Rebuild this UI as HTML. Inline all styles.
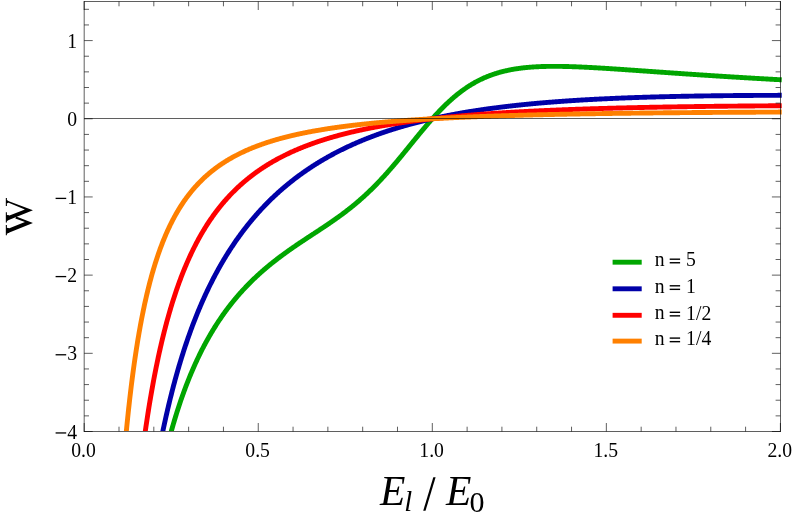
<!DOCTYPE html>
<html><head><meta charset="utf-8"><title>plot</title>
<style>html,body{margin:0;padding:0;background:#fff;}svg{display:block;will-change:transform;}text{font-family:"Liberation Serif",serif;fill:#000;}</style></head><body>
<svg width="797" height="518" viewBox="0 0 797 518">
<rect width="797" height="518" fill="#fff"/>
<defs><clipPath id="c"><rect x="82.70" y="0.00" width="699.20" height="431.00"/></clipPath></defs>
<g clip-path="url(#c)" fill="none" stroke-width="4.90" stroke-linejoin="round">
<path d="M160.23,476.75 L160.72,474.44 L161.21,472.16 L161.70,469.91 L162.20,467.69 L162.69,465.50 L163.18,463.33 L163.68,461.19 L164.17,459.08 L164.66,457.00 L165.16,454.94 L165.65,452.90 L166.14,450.89 L166.64,448.90 L167.13,446.94 L167.62,445.00 L168.12,443.08 L168.61,441.18 L169.10,439.31 L169.60,437.46 L170.09,435.63 L170.58,433.82 L171.08,432.03 L171.57,430.26 L172.06,428.51 L172.56,426.78 L173.05,425.07 L173.54,423.38 L174.04,421.71 L174.53,420.05 L175.02,418.42 L175.52,416.80 L176.01,415.20 L176.50,413.61 L177.00,412.05 L177.49,410.49 L177.98,408.96 L178.48,407.44 L178.97,405.94 L179.46,404.45 L179.96,402.98 L180.45,401.52 L180.94,400.08 L181.44,398.65 L181.93,397.24 L182.42,395.84 L182.92,394.46 L183.41,393.09 L183.90,391.73 L184.40,390.39 L184.89,389.06 L185.38,387.74 L185.88,386.43 L186.37,385.14 L186.86,383.86 L187.36,382.59 L187.85,381.34 L188.34,380.09 L188.84,378.86 L189.33,377.64 L189.82,376.43 L190.32,375.23 L190.81,374.05 L191.30,372.87 L191.80,371.70 L192.29,370.55 L192.78,369.41 L193.28,368.27 L193.77,367.15 L194.26,366.04 L194.76,364.93 L195.25,363.84 L195.74,362.75 L196.24,361.68 L196.73,360.61 L197.22,359.56 L197.72,358.51 L198.21,357.47 L198.70,356.45 L199.20,355.43 L199.69,354.41 L200.18,353.41 L200.68,352.42 L201.17,351.43 L201.66,350.45 L202.16,349.49 L202.65,348.52 L203.14,347.57 L203.64,346.63 L204.13,345.69 L204.62,344.76 L205.12,343.84 L205.61,342.92 L206.10,342.01 L206.60,341.11 L207.09,340.22 L207.58,339.33 L208.08,338.45 L208.57,337.58 L209.06,336.72 L209.56,335.86 L210.05,335.01 L210.54,334.16 L211.04,333.32 L211.53,332.49 L212.02,331.67 L212.52,330.85 L213.01,330.04 L213.50,329.23 L214.00,328.43 L214.49,327.63 L214.98,326.84 L215.48,326.06 L215.97,325.28 L216.46,324.51 L216.96,323.75 L217.45,322.99 L217.94,322.23 L218.44,321.48 L218.93,320.74 L219.42,320.00 L219.92,319.27 L220.41,318.54 L220.90,317.82 L221.40,317.10 L221.89,316.39 L222.38,315.69 L222.88,314.98 L223.37,314.29 L223.86,313.59 L224.36,312.91 L224.85,312.23 L225.34,311.55 L225.83,310.87 L226.33,310.21 L226.82,309.54 L227.31,308.88 L227.81,308.23 L228.30,307.58 L228.79,306.93 L229.29,306.29 L229.78,305.65 L230.27,305.02 L230.77,304.39 L231.26,303.77 L231.75,303.14 L232.25,302.53 L232.74,301.92 L233.23,301.31 L233.73,300.70 L234.22,300.10 L234.71,299.50 L235.21,298.91 L235.70,298.32 L236.19,297.74 L236.69,297.15 L237.18,296.58 L237.67,296.00 L238.17,295.43 L238.66,294.86 L239.15,294.30 L239.65,293.74 L240.14,293.18 L240.63,292.63 L241.13,292.08 L241.62,291.53 L242.11,290.99 L242.61,290.45 L243.10,289.91 L243.59,289.38 L244.09,288.84 L244.58,288.32 L245.07,287.79 L245.57,287.27 L246.06,286.75 L246.55,286.24 L247.05,285.73 L247.54,285.22 L248.03,284.71 L248.53,284.21 L249.02,283.71 L249.51,283.21 L250.01,282.71 L250.50,282.22 L250.99,281.73 L251.49,281.24 L251.98,280.76 L252.47,280.28 L252.97,279.80 L253.46,279.32 L253.95,278.85 L254.45,278.38 L254.94,277.91 L255.43,277.44 L255.93,276.98 L256.42,276.52 L256.91,276.06 L257.41,275.61 L257.90,275.15 L258.39,274.70 L258.89,274.25 L259.38,273.80 L259.87,273.36 L260.37,272.92 L260.86,272.48 L261.35,272.04 L261.85,271.60 L262.34,271.17 L262.83,270.74 L263.33,270.31 L263.82,269.88 L264.31,269.46 L264.81,269.03 L265.30,268.61 L265.79,268.19 L266.29,267.78 L266.78,267.36 L267.27,266.95 L267.77,266.54 L268.26,266.13 L268.75,265.72 L269.25,265.32 L269.74,264.91 L270.23,264.51 L270.73,264.11 L271.22,263.71 L271.71,263.31 L272.21,262.92 L272.70,262.53 L273.19,262.13 L273.69,261.74 L274.18,261.36 L274.67,260.97 L275.17,260.58 L275.66,260.20 L276.15,259.82 L276.65,259.44 L277.14,259.06 L277.63,258.68 L278.13,258.30 L278.62,257.93 L279.11,257.56 L279.61,257.18 L280.10,256.81 L280.59,256.45 L281.09,256.08 L281.58,255.71 L282.07,255.35 L282.57,254.98 L283.06,254.62 L283.55,254.26 L284.05,253.90 L284.54,253.54 L285.03,253.18 L285.53,252.83 L286.02,252.47 L286.51,252.12 L287.01,251.76 L287.50,251.41 L287.99,251.06 L288.48,250.71 L288.98,250.36 L289.47,250.01 L289.96,249.67 L290.46,249.32 L290.95,248.97 L291.44,248.63 L291.94,248.29 L292.43,247.94 L292.92,247.60 L293.42,247.26 L293.91,246.92 L294.40,246.58 L294.90,246.25 L295.39,245.91 L295.88,245.57 L296.38,245.23 L296.87,244.90 L297.36,244.57 L297.86,244.23 L298.35,243.90 L298.84,243.57 L299.34,243.23 L299.83,242.90 L300.32,242.57 L300.82,242.24 L301.31,241.91 L301.80,241.58 L302.30,241.25 L302.79,240.92 L303.28,240.60 L303.78,240.27 L304.27,239.94 L304.76,239.61 L305.26,239.29 L305.75,238.96 L306.24,238.64 L306.74,238.31 L307.23,237.98 L307.72,237.66 L308.22,237.33 L308.71,237.01 L309.20,236.69 L309.70,236.36 L310.19,236.04 L310.68,235.71 L311.18,235.39 L311.67,235.07 L312.16,234.74 L312.66,234.42 L313.15,234.09 L313.64,233.77 L314.14,233.45 L314.63,233.12 L315.12,232.80 L315.62,232.47 L316.11,232.15 L316.60,231.83 L317.10,231.50 L317.59,231.18 L318.08,230.85 L318.58,230.53 L319.07,230.20 L319.56,229.88 L320.06,229.55 L320.55,229.22 L321.04,228.90 L321.54,228.57 L322.03,228.24 L322.52,227.91 L323.02,227.59 L323.51,227.26 L324.00,226.93 L324.50,226.60 L324.99,226.27 L325.48,225.94 L325.98,225.60 L326.47,225.27 L326.96,224.94 L327.46,224.60 L327.95,224.27 L328.44,223.94 L328.94,223.60 L329.43,223.26 L329.92,222.93 L330.42,222.59 L330.91,222.25 L331.40,221.91 L331.90,221.57 L332.39,221.23 L332.88,220.88 L333.38,220.54 L333.87,220.20 L334.36,219.85 L334.86,219.50 L335.35,219.16 L335.84,218.81 L336.34,218.46 L336.83,218.11 L337.32,217.76 L337.82,217.40 L338.31,217.05 L338.80,216.69 L339.30,216.34 L339.79,215.98 L340.28,215.62 L340.78,215.26 L341.27,214.89 L341.76,214.53 L342.26,214.17 L342.75,213.80 L343.24,213.43 L343.74,213.06 L344.23,212.69 L344.72,212.32 L345.22,211.95 L345.71,211.57 L346.20,211.19 L346.70,210.81 L347.19,210.43 L347.68,210.05 L348.18,209.67 L348.67,209.28 L349.16,208.90 L349.66,208.51 L350.15,208.12 L350.64,207.73 L351.14,207.33 L351.63,206.94 L352.12,206.54 L352.61,206.14 L353.11,205.74 L353.60,205.33 L354.09,204.93 L354.59,204.52 L355.08,204.11 L355.57,203.70 L356.07,203.29 L356.56,202.87 L357.05,202.46 L357.55,202.04 L358.04,201.61 L358.53,201.19 L359.03,200.77 L359.52,200.34 L360.01,199.91 L360.51,199.48 L361.00,199.04 L361.49,198.61 L361.99,198.17 L362.48,197.73 L362.97,197.28 L363.47,196.84 L363.96,196.39 L364.45,195.94 L364.95,195.49 L365.44,195.04 L365.93,194.58 L366.43,194.12 L366.92,193.66 L367.41,193.20 L367.91,192.73 L368.40,192.26 L368.89,191.79 L369.39,191.32 L369.88,190.84 L370.37,190.37 L370.87,189.89 L371.36,189.40 L371.85,188.92 L372.35,188.43 L372.84,187.94 L373.33,187.45 L373.83,186.96 L374.32,186.46 L374.81,185.96 L375.31,185.46 L375.80,184.96 L376.29,184.45 L376.79,183.95 L377.28,183.44 L377.77,182.92 L378.27,182.41 L378.76,181.89 L379.25,181.37 L379.75,180.85 L380.24,180.33 L380.73,179.80 L381.23,179.27 L381.72,178.74 L382.21,178.21 L382.71,177.67 L383.20,177.14 L383.69,176.60 L384.19,176.06 L384.68,175.51 L385.17,174.97 L385.67,174.42 L386.16,173.87 L386.65,173.32 L387.15,172.76 L387.64,172.20 L388.13,171.65 L388.63,171.09 L389.12,170.52 L389.61,169.96 L390.11,169.39 L390.60,168.83 L391.09,168.26 L391.59,167.69 L392.08,167.11 L392.57,166.54 L393.07,165.96 L393.56,165.38 L394.05,164.80 L394.55,164.22 L395.04,163.64 L395.53,163.06 L396.03,162.47 L396.52,161.88 L397.01,161.30 L397.51,160.71 L398.00,160.11 L398.49,159.52 L398.99,158.93 L399.48,158.33 L399.97,157.74 L400.47,157.14 L400.96,156.54 L401.45,155.94 L401.95,155.34 L402.44,154.74 L402.93,154.14 L403.43,153.54 L403.92,152.94 L404.41,152.33 L404.91,151.73 L405.40,151.12 L405.89,150.52 L406.39,149.91 L406.88,149.30 L407.37,148.70 L407.87,148.09 L408.36,147.48 L408.85,146.87 L409.35,146.26 L409.84,145.66 L410.33,145.05 L410.83,144.44 L411.32,143.83 L411.81,143.22 L412.31,142.62 L412.80,142.01 L413.29,141.40 L413.79,140.79 L414.28,140.19 L414.77,139.58 L415.26,138.97 L415.76,138.37 L416.25,137.76 L416.74,137.16 L417.24,136.56 L417.73,135.95 L418.22,135.35 L418.72,134.75 L419.21,134.15 L419.70,133.55 L420.20,132.96 L420.69,132.36 L421.18,131.76 L421.68,131.17 L422.17,130.58 L422.66,129.98 L423.16,129.39 L423.65,128.81 L424.14,128.22 L424.64,127.63 L425.13,127.05 L425.62,126.47 L426.12,125.89 L426.61,125.31 L427.10,124.73 L427.60,124.15 L428.09,123.58 L428.58,123.01 L429.08,122.44 L429.57,121.87 L430.06,121.31 L430.56,120.74 L431.05,120.18 L431.54,119.62 L432.04,119.07 L432.53,118.51 L433.02,117.96 L433.52,117.41 L434.01,116.87 L434.50,116.32 L435.00,115.78 L435.49,115.24 L435.98,114.70 L436.48,114.17 L436.97,113.64 L437.46,113.11 L437.96,112.59 L438.45,112.06 L438.94,111.54 L439.44,111.03 L439.93,110.51 L440.42,110.00 L440.92,109.49 L441.41,108.99 L441.90,108.48 L442.40,107.98 L442.89,107.49 L443.38,106.99 L443.88,106.50 L444.37,106.02 L444.86,105.53 L445.36,105.05 L445.85,104.58 L446.34,104.10 L446.84,103.63 L447.33,103.16 L447.82,102.70 L448.32,102.24 L448.81,101.78 L449.30,101.33 L449.80,100.88 L450.29,100.43 L450.78,99.99 L451.28,99.55 L451.77,99.11 L452.26,98.67 L452.76,98.24 L453.25,97.82 L453.74,97.39 L454.24,96.97 L454.73,96.56 L455.22,96.14 L455.72,95.74 L456.21,95.33 L456.70,94.93 L457.20,94.53 L457.69,94.13 L458.18,93.74 L458.68,93.35 L459.17,92.97 L459.66,92.59 L460.16,92.21 L460.65,91.83 L461.14,91.46 L461.64,91.10 L462.13,90.73 L462.62,90.37 L463.12,90.01 L463.61,89.66 L464.10,89.31 L464.60,88.97 L465.09,88.62 L465.58,88.28 L466.08,87.95 L466.57,87.61 L467.06,87.28 L467.56,86.96 L468.05,86.64 L468.54,86.32 L469.04,86.00 L469.53,85.69 L470.02,85.38 L470.52,85.08 L471.01,84.77 L471.50,84.47 L472.00,84.18 L472.49,83.89 L472.98,83.60 L473.48,83.31 L473.97,83.03 L474.46,82.75 L474.96,82.47 L475.45,82.20 L475.94,81.93 L476.44,81.67 L476.93,81.40 L477.42,81.14 L477.92,80.88 L478.41,80.63 L478.90,80.38 L479.39,80.13 L479.89,79.89 L480.38,79.65 L480.87,79.41 L481.37,79.17 L481.86,78.94 L482.35,78.71 L482.85,78.48 L483.34,78.26 L483.83,78.04 L484.33,77.82 L484.82,77.60 L485.31,77.39 L485.81,77.18 L486.30,76.97 L486.79,76.77 L487.29,76.57 L487.78,76.37 L488.27,76.17 L488.77,75.98 L489.26,75.79 L489.75,75.60 L490.25,75.42 L490.74,75.23 L491.23,75.05 L491.73,74.88 L492.22,74.70 L492.71,74.53 L493.21,74.36 L493.70,74.19 L494.19,74.02 L494.69,73.86 L495.18,73.70 L495.67,73.54 L496.17,73.39 L496.66,73.23 L497.15,73.08 L497.65,72.93 L498.14,72.79 L498.63,72.64 L499.13,72.50 L499.62,72.36 L500.11,72.22 L500.61,72.09 L501.10,71.96 L501.59,71.83 L502.09,71.70 L502.58,71.57 L503.07,71.44 L503.57,71.32 L504.06,71.20 L504.55,71.08 L505.05,70.97 L505.54,70.85 L506.03,70.74 L506.53,70.63 L507.02,70.52 L507.51,70.41 L508.01,70.30 L508.50,70.20 L508.99,70.10 L509.49,70.00 L509.98,69.90 L510.47,69.81 L510.97,69.71 L511.46,69.62 L511.95,69.53 L512.45,69.44 L512.94,69.35 L513.43,69.26 L513.93,69.18 L514.42,69.10 L514.91,69.01 L515.41,68.94 L515.90,68.86 L516.39,68.78 L516.89,68.71 L517.38,68.63 L517.87,68.56 L518.37,68.49 L518.86,68.42 L519.35,68.35 L519.85,68.29 L520.34,68.22 L520.83,68.16 L521.33,68.10 L521.82,68.04 L522.31,67.98 L522.81,67.92 L523.30,67.86 L523.79,67.81 L524.29,67.75 L524.78,67.70 L525.27,67.65 L525.77,67.60 L526.26,67.55 L526.75,67.50 L527.25,67.45 L527.74,67.41 L528.23,67.36 L528.73,67.32 L529.22,67.28 L529.71,67.24 L530.21,67.20 L530.70,67.16 L531.19,67.12 L531.69,67.08 L532.18,67.05 L532.67,67.01 L533.17,66.98 L533.66,66.95 L534.15,66.92 L534.65,66.89 L535.14,66.86 L535.63,66.83 L536.13,66.80 L536.62,66.77 L537.11,66.75 L537.61,66.72 L538.10,66.70 L538.59,66.68 L539.09,66.65 L539.58,66.63 L540.07,66.61 L540.57,66.59 L541.06,66.57 L541.55,66.56 L542.04,66.54 L542.54,66.52 L543.03,66.51 L543.52,66.49 L544.02,66.48 L544.51,66.47 L545.00,66.45 L545.50,66.44 L545.99,66.43 L546.48,66.42 L546.98,66.41 L547.47,66.40 L547.96,66.39 L548.46,66.39 L548.95,66.38 L549.44,66.37 L549.94,66.37 L550.43,66.36 L550.92,66.36 L551.42,66.36 L551.91,66.35 L552.40,66.35 L552.90,66.35 L553.39,66.35 L553.88,66.35 L554.38,66.35 L554.87,66.35 L555.36,66.35 L555.86,66.35 L556.35,66.35 L556.84,66.36 L557.34,66.36 L557.83,66.36 L558.32,66.37 L558.82,66.37 L559.31,66.38 L559.80,66.39 L560.30,66.39 L560.79,66.40 L561.28,66.41 L561.78,66.42 L562.27,66.42 L562.76,66.43 L563.26,66.44 L563.75,66.45 L564.24,66.46 L564.74,66.47 L565.23,66.48 L565.72,66.50 L566.22,66.51 L566.71,66.52 L567.20,66.53 L567.70,66.55 L568.19,66.56 L568.68,66.57 L569.18,66.59 L569.67,66.60 L570.16,66.62 L570.66,66.63 L571.15,66.65 L571.64,66.66 L572.14,66.68 L572.63,66.70 L573.12,66.71 L573.62,66.73 L574.11,66.75 L574.60,66.77 L575.10,66.79 L575.59,66.81 L576.08,66.82 L576.58,66.84 L577.07,66.86 L577.56,66.88 L578.06,66.90 L578.55,66.92 L579.04,66.95 L579.54,66.97 L580.03,66.99 L580.52,67.01 L581.02,67.03 L581.51,67.05 L582.00,67.08 L582.50,67.10 L582.99,67.12 L583.48,67.14 L583.98,67.17 L584.47,67.19 L584.96,67.22 L585.46,67.24 L585.95,67.26 L586.44,67.29 L586.94,67.31 L587.43,67.34 L587.92,67.36 L588.42,67.39 L588.91,67.41 L589.40,67.44 L589.90,67.47 L590.39,67.49 L590.88,67.52 L591.38,67.55 L591.87,67.57 L592.36,67.60 L592.86,67.63 L593.35,67.65 L593.84,67.68 L594.34,67.71 L594.83,67.74 L595.32,67.77 L595.82,67.79 L596.31,67.82 L596.80,67.85 L597.30,67.88 L597.79,67.91 L598.28,67.94 L598.78,67.97 L599.27,67.99 L599.76,68.02 L600.26,68.05 L600.75,68.08 L601.24,68.11 L601.74,68.14 L602.23,68.17 L602.72,68.20 L603.22,68.23 L603.71,68.26 L604.20,68.29 L604.70,68.32 L605.19,68.36 L605.68,68.39 L606.17,68.42 L606.67,68.45 L607.16,68.48 L607.65,68.51 L608.15,68.54 L608.64,68.57 L609.13,68.61 L609.63,68.64 L610.12,68.67 L610.61,68.70 L611.11,68.73 L611.60,68.76 L612.09,68.80 L612.59,68.83 L613.08,68.86 L613.57,68.89 L614.07,68.93 L614.56,68.96 L615.05,68.99 L615.55,69.02 L616.04,69.06 L616.53,69.09 L617.03,69.12 L617.52,69.16 L618.01,69.19 L618.51,69.22 L619.00,69.25 L619.49,69.29 L619.99,69.32 L620.48,69.35 L620.97,69.39 L621.47,69.42 L621.96,69.46 L622.45,69.49 L622.95,69.52 L623.44,69.56 L623.93,69.59 L624.43,69.62 L624.92,69.66 L625.41,69.69 L625.91,69.73 L626.40,69.76 L626.89,69.79 L627.39,69.83 L627.88,69.86 L628.37,69.90 L628.87,69.93 L629.36,69.96 L629.85,70.00 L630.35,70.03 L630.84,70.07 L631.33,70.10 L631.83,70.14 L632.32,70.17 L632.81,70.20 L633.31,70.24 L633.80,70.27 L634.29,70.31 L634.79,70.34 L635.28,70.38 L635.77,70.41 L636.27,70.45 L636.76,70.48 L637.25,70.52 L637.75,70.55 L638.24,70.58 L638.73,70.62 L639.23,70.65 L639.72,70.69 L640.21,70.72 L640.71,70.76 L641.20,70.79 L641.69,70.83 L642.19,70.86 L642.68,70.90 L643.17,70.93 L643.67,70.97 L644.16,71.00 L644.65,71.04 L645.15,71.07 L645.64,71.11 L646.13,71.14 L646.63,71.18 L647.12,71.21 L647.61,71.25 L648.11,71.28 L648.60,71.32 L649.09,71.35 L649.59,71.38 L650.08,71.42 L650.57,71.45 L651.07,71.49 L651.56,71.52 L652.05,71.56 L652.55,71.59 L653.04,71.63 L653.53,71.66 L654.03,71.70 L654.52,71.73 L655.01,71.77 L655.51,71.80 L656.00,71.84 L656.49,71.87 L656.99,71.91 L657.48,71.94 L657.97,71.98 L658.47,72.01 L658.96,72.05 L659.45,72.08 L659.95,72.12 L660.44,72.15 L660.93,72.19 L661.43,72.22 L661.92,72.26 L662.41,72.29 L662.91,72.32 L663.40,72.36 L663.89,72.39 L664.39,72.43 L664.88,72.46 L665.37,72.50 L665.87,72.53 L666.36,72.57 L666.85,72.60 L667.35,72.64 L667.84,72.67 L668.33,72.71 L668.82,72.74 L669.32,72.77 L669.81,72.81 L670.30,72.84 L670.80,72.88 L671.29,72.91 L671.78,72.95 L672.28,72.98 L672.77,73.02 L673.26,73.05 L673.76,73.08 L674.25,73.12 L674.74,73.15 L675.24,73.19 L675.73,73.22 L676.22,73.26 L676.72,73.29 L677.21,73.32 L677.70,73.36 L678.20,73.39 L678.69,73.43 L679.18,73.46 L679.68,73.49 L680.17,73.53 L680.66,73.56 L681.16,73.60 L681.65,73.63 L682.14,73.66 L682.64,73.70 L683.13,73.73 L683.62,73.77 L684.12,73.80 L684.61,73.83 L685.10,73.87 L685.60,73.90 L686.09,73.93 L686.58,73.97 L687.08,74.00 L687.57,74.03 L688.06,74.07 L688.56,74.10 L689.05,74.14 L689.54,74.17 L690.04,74.20 L690.53,74.24 L691.02,74.27 L691.52,74.30 L692.01,74.34 L692.50,74.37 L693.00,74.40 L693.49,74.44 L693.98,74.47 L694.48,74.50 L694.97,74.54 L695.46,74.57 L695.96,74.60 L696.45,74.63 L696.94,74.67 L697.44,74.70 L697.93,74.73 L698.42,74.77 L698.92,74.80 L699.41,74.83 L699.90,74.87 L700.40,74.90 L700.89,74.93 L701.38,74.96 L701.88,75.00 L702.37,75.03 L702.86,75.06 L703.36,75.09 L703.85,75.13 L704.34,75.16 L704.84,75.19 L705.33,75.22 L705.82,75.26 L706.32,75.29 L706.81,75.32 L707.30,75.35 L707.80,75.39 L708.29,75.42 L708.78,75.45 L709.28,75.48 L709.77,75.52 L710.26,75.55 L710.76,75.58 L711.25,75.61 L711.74,75.64 L712.24,75.68 L712.73,75.71 L713.22,75.74 L713.72,75.77 L714.21,75.80 L714.70,75.84 L715.20,75.87 L715.69,75.90 L716.18,75.93 L716.68,75.96 L717.17,75.99 L717.66,76.03 L718.16,76.06 L718.65,76.09 L719.14,76.12 L719.64,76.15 L720.13,76.18 L720.62,76.21 L721.12,76.25 L721.61,76.28 L722.10,76.31 L722.60,76.34 L723.09,76.37 L723.58,76.40 L724.08,76.43 L724.57,76.46 L725.06,76.50 L725.56,76.53 L726.05,76.56 L726.54,76.59 L727.04,76.62 L727.53,76.65 L728.02,76.68 L728.52,76.71 L729.01,76.74 L729.50,76.77 L730.00,76.80 L730.49,76.84 L730.98,76.87 L731.48,76.90 L731.97,76.93 L732.46,76.96 L732.95,76.99 L733.45,77.02 L733.94,77.05 L734.43,77.08 L734.93,77.11 L735.42,77.14 L735.91,77.17 L736.41,77.20 L736.90,77.23 L737.39,77.26 L737.89,77.29 L738.38,77.32 L738.87,77.35 L739.37,77.38 L739.86,77.41 L740.35,77.44 L740.85,77.47 L741.34,77.50 L741.83,77.53 L742.33,77.56 L742.82,77.59 L743.31,77.62 L743.81,77.65 L744.30,77.68 L744.79,77.71 L745.29,77.74 L745.78,77.77 L746.27,77.80 L746.77,77.83 L747.26,77.86 L747.75,77.89 L748.25,77.92 L748.74,77.95 L749.23,77.98 L749.73,78.01 L750.22,78.03 L750.71,78.06 L751.21,78.09 L751.70,78.12 L752.19,78.15 L752.69,78.18 L753.18,78.21 L753.67,78.24 L754.17,78.27 L754.66,78.30 L755.15,78.33 L755.65,78.35 L756.14,78.38 L756.63,78.41 L757.13,78.44 L757.62,78.47 L758.11,78.50 L758.61,78.53 L759.10,78.56 L759.59,78.58 L760.09,78.61 L760.58,78.64 L761.07,78.67 L761.57,78.70 L762.06,78.73 L762.55,78.75 L763.05,78.78 L763.54,78.81 L764.03,78.84 L764.53,78.87 L765.02,78.90 L765.51,78.92 L766.01,78.95 L766.50,78.98 L766.99,79.01 L767.49,79.04 L767.98,79.06 L768.47,79.09 L768.97,79.12 L769.46,79.15 L769.95,79.18 L770.45,79.20 L770.94,79.23 L771.43,79.26 L771.93,79.29 L772.42,79.32 L772.91,79.34 L773.41,79.37 L773.90,79.40 L774.39,79.43 L774.89,79.45 L775.38,79.48 L775.87,79.51 L776.37,79.54 L776.86,79.56 L777.35,79.59 L777.85,79.62 L778.34,79.64 L778.83,79.67 L779.33,79.70 L779.82,79.73 L780.31,79.75 L780.81,79.78 L781.30,79.81 L781.79,79.83" stroke="#00a600"/>
<path d="M154.31,476.71 L154.80,473.80 L155.29,470.93 L155.79,468.10 L156.28,465.30 L156.77,462.54 L157.27,459.81 L157.76,457.12 L158.25,454.46 L158.75,451.84 L159.24,449.24 L159.73,446.68 L160.23,444.15 L160.72,441.65 L161.21,439.18 L161.70,436.74 L162.20,434.33 L162.69,431.95 L163.18,429.59 L163.68,427.26 L164.17,424.96 L164.66,422.69 L165.16,420.44 L165.65,418.21 L166.14,416.01 L166.64,413.84 L167.13,411.69 L167.62,409.56 L168.12,407.45 L168.61,405.37 L169.10,403.31 L169.60,401.28 L170.09,399.26 L170.58,397.27 L171.08,395.29 L171.57,393.34 L172.06,391.41 L172.56,389.50 L173.05,387.60 L173.54,385.73 L174.04,383.87 L174.53,382.04 L175.02,380.22 L175.52,378.42 L176.01,376.64 L176.50,374.88 L177.00,373.13 L177.49,371.40 L177.98,369.69 L178.48,367.99 L178.97,366.31 L179.46,364.64 L179.96,362.99 L180.45,361.36 L180.94,359.74 L181.44,358.14 L181.93,356.55 L182.42,354.98 L182.92,353.42 L183.41,351.87 L183.90,350.34 L184.40,348.82 L184.89,347.32 L185.38,345.83 L185.88,344.35 L186.37,342.89 L186.86,341.44 L187.36,340.00 L187.85,338.57 L188.34,337.16 L188.84,335.76 L189.33,334.37 L189.82,332.99 L190.32,331.62 L190.81,330.27 L191.30,328.92 L191.80,327.59 L192.29,326.27 L192.78,324.96 L193.28,323.66 L193.77,322.37 L194.26,321.09 L194.76,319.83 L195.25,318.57 L195.74,317.32 L196.24,316.08 L196.73,314.86 L197.22,313.64 L197.72,312.43 L198.21,311.23 L198.70,310.04 L199.20,308.86 L199.69,307.69 L200.18,306.53 L200.68,305.37 L201.17,304.23 L201.66,303.09 L202.16,301.97 L202.65,300.85 L203.14,299.74 L203.64,298.64 L204.13,297.54 L204.62,296.46 L205.12,295.38 L205.61,294.31 L206.10,293.25 L206.60,292.20 L207.09,291.15 L207.58,290.11 L208.08,289.08 L208.57,288.06 L209.06,287.04 L209.56,286.03 L210.05,285.03 L210.54,284.03 L211.04,283.05 L211.53,282.07 L212.02,281.09 L212.52,280.12 L213.01,279.16 L213.50,278.21 L214.00,277.26 L214.49,276.32 L214.98,275.39 L215.48,274.46 L215.97,273.54 L216.46,272.62 L216.96,271.71 L217.45,270.81 L217.94,269.91 L218.44,269.02 L218.93,268.14 L219.42,267.26 L219.92,266.39 L220.41,265.52 L220.90,264.66 L221.40,263.80 L221.89,262.95 L222.38,262.10 L222.88,261.26 L223.37,260.43 L223.86,259.60 L224.36,258.78 L224.85,257.96 L225.34,257.15 L225.83,256.34 L226.33,255.53 L226.82,254.74 L227.31,253.94 L227.81,253.16 L228.30,252.37 L228.79,251.60 L229.29,250.82 L229.78,250.05 L230.27,249.29 L230.77,248.53 L231.26,247.78 L231.75,247.03 L232.25,246.28 L232.74,245.54 L233.23,244.81 L233.73,244.08 L234.22,243.35 L234.71,242.63 L235.21,241.91 L235.70,241.19 L236.19,240.48 L236.69,239.78 L237.18,239.08 L237.67,238.38 L238.17,237.69 L238.66,237.00 L239.15,236.31 L239.65,235.63 L240.14,234.96 L240.63,234.28 L241.13,233.61 L241.62,232.95 L242.11,232.29 L242.61,231.63 L243.10,230.98 L243.59,230.33 L244.09,229.68 L244.58,229.04 L245.07,228.40 L245.57,227.76 L246.06,227.13 L246.55,226.50 L247.05,225.88 L247.54,225.26 L248.03,224.64 L248.53,224.03 L249.02,223.41 L249.51,222.81 L250.01,222.20 L250.50,221.60 L250.99,221.01 L251.49,220.41 L251.98,219.82 L252.47,219.23 L252.97,218.65 L253.46,218.07 L253.95,217.49 L254.45,216.92 L254.94,216.35 L255.43,215.78 L255.93,215.21 L256.42,214.65 L256.91,214.09 L257.41,213.53 L257.90,212.98 L258.39,212.43 L258.89,211.88 L259.38,211.34 L259.87,210.80 L260.37,210.26 L260.86,209.72 L261.35,209.19 L261.85,208.66 L262.34,208.13 L262.83,207.61 L263.33,207.09 L263.82,206.57 L264.31,206.05 L264.81,205.54 L265.30,205.03 L265.79,204.52 L266.29,204.02 L266.78,203.51 L267.27,203.01 L267.77,202.51 L268.26,202.02 L268.75,201.53 L269.25,201.04 L269.74,200.55 L270.23,200.06 L270.73,199.58 L271.22,199.10 L271.71,198.62 L272.21,198.15 L272.70,197.68 L273.19,197.21 L273.69,196.74 L274.18,196.27 L274.67,195.81 L275.17,195.35 L275.66,194.89 L276.15,194.43 L276.65,193.98 L277.14,193.53 L277.63,193.08 L278.13,192.63 L278.62,192.19 L279.11,191.75 L279.61,191.30 L280.10,190.87 L280.59,190.43 L281.09,190.00 L281.58,189.56 L282.07,189.14 L282.57,188.71 L283.06,188.28 L283.55,187.86 L284.05,187.44 L284.54,187.02 L285.03,186.60 L285.53,186.19 L286.02,185.77 L286.51,185.36 L287.01,184.95 L287.50,184.55 L287.99,184.14 L288.48,183.74 L288.98,183.34 L289.47,182.94 L289.96,182.54 L290.46,182.15 L290.95,181.75 L291.44,181.36 L291.94,180.97 L292.43,180.58 L292.92,180.20 L293.42,179.81 L293.91,179.43 L294.40,179.05 L294.90,178.67 L295.39,178.30 L295.88,177.92 L296.38,177.55 L296.87,177.18 L297.36,176.81 L297.86,176.44 L298.35,176.07 L298.84,175.71 L299.34,175.35 L299.83,174.98 L300.32,174.63 L300.82,174.27 L301.31,173.91 L301.80,173.56 L302.30,173.21 L302.79,172.85 L303.28,172.51 L303.78,172.16 L304.27,171.81 L304.76,171.47 L305.26,171.12 L305.75,170.78 L306.24,170.44 L306.74,170.11 L307.23,169.77 L307.72,169.44 L308.22,169.10 L308.71,168.77 L309.20,168.44 L309.70,168.11 L310.19,167.78 L310.68,167.46 L311.18,167.14 L311.67,166.81 L312.16,166.49 L312.66,166.17 L313.15,165.85 L313.64,165.54 L314.14,165.22 L314.63,164.91 L315.12,164.60 L315.62,164.28 L316.11,163.98 L316.60,163.67 L317.10,163.36 L317.59,163.06 L318.08,162.75 L318.58,162.45 L319.07,162.15 L319.56,161.85 L320.06,161.55 L320.55,161.25 L321.04,160.96 L321.54,160.66 L322.03,160.37 L322.52,160.08 L323.02,159.79 L323.51,159.50 L324.00,159.21 L324.50,158.93 L324.99,158.64 L325.48,158.36 L325.98,158.07 L326.47,157.79 L326.96,157.51 L327.46,157.23 L327.95,156.96 L328.44,156.68 L328.94,156.41 L329.43,156.13 L329.92,155.86 L330.42,155.59 L330.91,155.32 L331.40,155.05 L331.90,154.78 L332.39,154.52 L332.88,154.25 L333.38,153.99 L333.87,153.72 L334.36,153.46 L334.86,153.20 L335.35,152.94 L335.84,152.68 L336.34,152.43 L336.83,152.17 L337.32,151.92 L337.82,151.66 L338.31,151.41 L338.80,151.16 L339.30,150.91 L339.79,150.66 L340.28,150.41 L340.78,150.16 L341.27,149.92 L341.76,149.67 L342.26,149.43 L342.75,149.19 L343.24,148.94 L343.74,148.70 L344.23,148.46 L344.72,148.23 L345.22,147.99 L345.71,147.75 L346.20,147.52 L346.70,147.28 L347.19,147.05 L347.68,146.82 L348.18,146.59 L348.67,146.36 L349.16,146.13 L349.66,145.90 L350.15,145.67 L350.64,145.45 L351.14,145.22 L351.63,145.00 L352.12,144.77 L352.61,144.55 L353.11,144.33 L353.60,144.11 L354.09,143.89 L354.59,143.67 L355.08,143.46 L355.57,143.24 L356.07,143.02 L356.56,142.81 L357.05,142.60 L357.55,142.38 L358.04,142.17 L358.53,141.96 L359.03,141.75 L359.52,141.54 L360.01,141.33 L360.51,141.13 L361.00,140.92 L361.49,140.71 L361.99,140.51 L362.48,140.31 L362.97,140.10 L363.47,139.90 L363.96,139.70 L364.45,139.50 L364.95,139.30 L365.44,139.10 L365.93,138.91 L366.43,138.71 L366.92,138.51 L367.41,138.32 L367.91,138.12 L368.40,137.93 L368.89,137.74 L369.39,137.55 L369.88,137.36 L370.37,137.17 L370.87,136.98 L371.36,136.79 L371.85,136.60 L372.35,136.42 L372.84,136.23 L373.33,136.04 L373.83,135.86 L374.32,135.68 L374.81,135.49 L375.31,135.31 L375.80,135.13 L376.29,134.95 L376.79,134.77 L377.28,134.59 L377.77,134.41 L378.27,134.24 L378.76,134.06 L379.25,133.89 L379.75,133.71 L380.24,133.54 L380.73,133.36 L381.23,133.19 L381.72,133.02 L382.21,132.85 L382.71,132.68 L383.20,132.51 L383.69,132.34 L384.19,132.17 L384.68,132.00 L385.17,131.83 L385.67,131.67 L386.16,131.50 L386.65,131.34 L387.15,131.17 L387.64,131.01 L388.13,130.85 L388.63,130.69 L389.12,130.52 L389.61,130.36 L390.11,130.20 L390.60,130.05 L391.09,129.89 L391.59,129.73 L392.08,129.57 L392.57,129.42 L393.07,129.26 L393.56,129.10 L394.05,128.95 L394.55,128.80 L395.04,128.64 L395.53,128.49 L396.03,128.34 L396.52,128.19 L397.01,128.04 L397.51,127.89 L398.00,127.74 L398.49,127.59 L398.99,127.44 L399.48,127.29 L399.97,127.15 L400.47,127.00 L400.96,126.85 L401.45,126.71 L401.95,126.57 L402.44,126.42 L402.93,126.28 L403.43,126.14 L403.92,125.99 L404.41,125.85 L404.91,125.71 L405.40,125.57 L405.89,125.43 L406.39,125.29 L406.88,125.16 L407.37,125.02 L407.87,124.88 L408.36,124.75 L408.85,124.61 L409.35,124.47 L409.84,124.34 L410.33,124.20 L410.83,124.07 L411.32,123.94 L411.81,123.81 L412.31,123.67 L412.80,123.54 L413.29,123.41 L413.79,123.28 L414.28,123.15 L414.77,123.02 L415.26,122.89 L415.76,122.77 L416.25,122.64 L416.74,122.51 L417.24,122.38 L417.73,122.26 L418.22,122.13 L418.72,122.01 L419.21,121.88 L419.70,121.76 L420.20,121.64 L420.69,121.51 L421.18,121.39 L421.68,121.27 L422.17,121.15 L422.66,121.03 L423.16,120.91 L423.65,120.79 L424.14,120.67 L424.64,120.55 L425.13,120.43 L425.62,120.32 L426.12,120.20 L426.61,120.08 L427.10,119.97 L427.60,119.85 L428.09,119.74 L428.58,119.62 L429.08,119.51 L429.57,119.39 L430.06,119.28 L430.56,119.17 L431.05,119.05 L431.54,118.94 L432.04,118.83 L432.53,118.72 L433.02,118.61 L433.52,118.50 L434.01,118.39 L434.50,118.28 L435.00,118.17 L435.49,118.07 L435.98,117.96 L436.48,117.85 L436.97,117.74 L437.46,117.64 L437.96,117.53 L438.45,117.43 L438.94,117.32 L439.44,117.22 L439.93,117.11 L440.42,117.01 L440.92,116.91 L441.41,116.80 L441.90,116.70 L442.40,116.60 L442.89,116.50 L443.38,116.40 L443.88,116.30 L444.37,116.20 L444.86,116.10 L445.36,116.00 L445.85,115.90 L446.34,115.80 L446.84,115.70 L447.33,115.61 L447.82,115.51 L448.32,115.41 L448.81,115.32 L449.30,115.22 L449.80,115.13 L450.29,115.03 L450.78,114.94 L451.28,114.84 L451.77,114.75 L452.26,114.65 L452.76,114.56 L453.25,114.47 L453.74,114.38 L454.24,114.28 L454.73,114.19 L455.22,114.10 L455.72,114.01 L456.21,113.92 L456.70,113.83 L457.20,113.74 L457.69,113.65 L458.18,113.56 L458.68,113.47 L459.17,113.39 L459.66,113.30 L460.16,113.21 L460.65,113.12 L461.14,113.04 L461.64,112.95 L462.13,112.87 L462.62,112.78 L463.12,112.69 L463.61,112.61 L464.10,112.53 L464.60,112.44 L465.09,112.36 L465.58,112.27 L466.08,112.19 L466.57,112.11 L467.06,112.03 L467.56,111.95 L468.05,111.86 L468.54,111.78 L469.04,111.70 L469.53,111.62 L470.02,111.54 L470.52,111.46 L471.01,111.38 L471.50,111.30 L472.00,111.22 L472.49,111.15 L472.98,111.07 L473.48,110.99 L473.97,110.91 L474.46,110.83 L474.96,110.76 L475.45,110.68 L475.94,110.61 L476.44,110.53 L476.93,110.45 L477.42,110.38 L477.92,110.30 L478.41,110.23 L478.90,110.15 L479.39,110.08 L479.89,110.01 L480.38,109.93 L480.87,109.86 L481.37,109.79 L481.86,109.72 L482.35,109.64 L482.85,109.57 L483.34,109.50 L483.83,109.43 L484.33,109.36 L484.82,109.29 L485.31,109.22 L485.81,109.15 L486.30,109.08 L486.79,109.01 L487.29,108.94 L487.78,108.87 L488.27,108.80 L488.77,108.74 L489.26,108.67 L489.75,108.60 L490.25,108.53 L490.74,108.47 L491.23,108.40 L491.73,108.33 L492.22,108.27 L492.71,108.20 L493.21,108.14 L493.70,108.07 L494.19,108.01 L494.69,107.94 L495.18,107.88 L495.67,107.81 L496.17,107.75 L496.66,107.68 L497.15,107.62 L497.65,107.56 L498.14,107.50 L498.63,107.43 L499.13,107.37 L499.62,107.31 L500.11,107.25 L500.61,107.19 L501.10,107.13 L501.59,107.06 L502.09,107.00 L502.58,106.94 L503.07,106.88 L503.57,106.82 L504.06,106.76 L504.55,106.70 L505.05,106.65 L505.54,106.59 L506.03,106.53 L506.53,106.47 L507.02,106.41 L507.51,106.35 L508.01,106.30 L508.50,106.24 L508.99,106.18 L509.49,106.13 L509.98,106.07 L510.47,106.01 L510.97,105.96 L511.46,105.90 L511.95,105.85 L512.45,105.79 L512.94,105.73 L513.43,105.68 L513.93,105.63 L514.42,105.57 L514.91,105.52 L515.41,105.46 L515.90,105.41 L516.39,105.36 L516.89,105.30 L517.38,105.25 L517.87,105.20 L518.37,105.14 L518.86,105.09 L519.35,105.04 L519.85,104.99 L520.34,104.94 L520.83,104.89 L521.33,104.83 L521.82,104.78 L522.31,104.73 L522.81,104.68 L523.30,104.63 L523.79,104.58 L524.29,104.53 L524.78,104.48 L525.27,104.43 L525.77,104.38 L526.26,104.34 L526.75,104.29 L527.25,104.24 L527.74,104.19 L528.23,104.14 L528.73,104.09 L529.22,104.05 L529.71,104.00 L530.21,103.95 L530.70,103.90 L531.19,103.86 L531.69,103.81 L532.18,103.76 L532.67,103.72 L533.17,103.67 L533.66,103.63 L534.15,103.58 L534.65,103.54 L535.14,103.49 L535.63,103.45 L536.13,103.40 L536.62,103.36 L537.11,103.31 L537.61,103.27 L538.10,103.22 L538.59,103.18 L539.09,103.14 L539.58,103.09 L540.07,103.05 L540.57,103.01 L541.06,102.96 L541.55,102.92 L542.04,102.88 L542.54,102.84 L543.03,102.79 L543.52,102.75 L544.02,102.71 L544.51,102.67 L545.00,102.63 L545.50,102.59 L545.99,102.55 L546.48,102.51 L546.98,102.47 L547.47,102.42 L547.96,102.38 L548.46,102.34 L548.95,102.30 L549.44,102.26 L549.94,102.23 L550.43,102.19 L550.92,102.15 L551.42,102.11 L551.91,102.07 L552.40,102.03 L552.90,101.99 L553.39,101.95 L553.88,101.92 L554.38,101.88 L554.87,101.84 L555.36,101.80 L555.86,101.77 L556.35,101.73 L556.84,101.69 L557.34,101.65 L557.83,101.62 L558.32,101.58 L558.82,101.54 L559.31,101.51 L559.80,101.47 L560.30,101.44 L560.79,101.40 L561.28,101.36 L561.78,101.33 L562.27,101.29 L562.76,101.26 L563.26,101.22 L563.75,101.19 L564.24,101.15 L564.74,101.12 L565.23,101.09 L565.72,101.05 L566.22,101.02 L566.71,100.98 L567.20,100.95 L567.70,100.92 L568.19,100.88 L568.68,100.85 L569.18,100.82 L569.67,100.78 L570.16,100.75 L570.66,100.72 L571.15,100.69 L571.64,100.65 L572.14,100.62 L572.63,100.59 L573.12,100.56 L573.62,100.53 L574.11,100.50 L574.60,100.46 L575.10,100.43 L575.59,100.40 L576.08,100.37 L576.58,100.34 L577.07,100.31 L577.56,100.28 L578.06,100.25 L578.55,100.22 L579.04,100.19 L579.54,100.16 L580.03,100.13 L580.52,100.10 L581.02,100.07 L581.51,100.04 L582.00,100.01 L582.50,99.98 L582.99,99.95 L583.48,99.92 L583.98,99.89 L584.47,99.87 L584.96,99.84 L585.46,99.81 L585.95,99.78 L586.44,99.75 L586.94,99.72 L587.43,99.70 L587.92,99.67 L588.42,99.64 L588.91,99.61 L589.40,99.59 L589.90,99.56 L590.39,99.53 L590.88,99.51 L591.38,99.48 L591.87,99.45 L592.36,99.43 L592.86,99.40 L593.35,99.37 L593.84,99.35 L594.34,99.32 L594.83,99.30 L595.32,99.27 L595.82,99.24 L596.31,99.22 L596.80,99.19 L597.30,99.17 L597.79,99.14 L598.28,99.12 L598.78,99.09 L599.27,99.07 L599.76,99.04 L600.26,99.02 L600.75,98.99 L601.24,98.97 L601.74,98.95 L602.23,98.92 L602.72,98.90 L603.22,98.87 L603.71,98.85 L604.20,98.83 L604.70,98.80 L605.19,98.78 L605.68,98.76 L606.17,98.73 L606.67,98.71 L607.16,98.69 L607.65,98.67 L608.15,98.64 L608.64,98.62 L609.13,98.60 L609.63,98.58 L610.12,98.55 L610.61,98.53 L611.11,98.51 L611.60,98.49 L612.09,98.47 L612.59,98.44 L613.08,98.42 L613.57,98.40 L614.07,98.38 L614.56,98.36 L615.05,98.34 L615.55,98.32 L616.04,98.30 L616.53,98.27 L617.03,98.25 L617.52,98.23 L618.01,98.21 L618.51,98.19 L619.00,98.17 L619.49,98.15 L619.99,98.13 L620.48,98.11 L620.97,98.09 L621.47,98.07 L621.96,98.05 L622.45,98.03 L622.95,98.01 L623.44,97.99 L623.93,97.97 L624.43,97.96 L624.92,97.94 L625.41,97.92 L625.91,97.90 L626.40,97.88 L626.89,97.86 L627.39,97.84 L627.88,97.82 L628.37,97.81 L628.87,97.79 L629.36,97.77 L629.85,97.75 L630.35,97.73 L630.84,97.71 L631.33,97.70 L631.83,97.68 L632.32,97.66 L632.81,97.64 L633.31,97.63 L633.80,97.61 L634.29,97.59 L634.79,97.57 L635.28,97.56 L635.77,97.54 L636.27,97.52 L636.76,97.51 L637.25,97.49 L637.75,97.47 L638.24,97.46 L638.73,97.44 L639.23,97.42 L639.72,97.41 L640.21,97.39 L640.71,97.38 L641.20,97.36 L641.69,97.34 L642.19,97.33 L642.68,97.31 L643.17,97.30 L643.67,97.28 L644.16,97.26 L644.65,97.25 L645.15,97.23 L645.64,97.22 L646.13,97.20 L646.63,97.19 L647.12,97.17 L647.61,97.16 L648.11,97.14 L648.60,97.13 L649.09,97.11 L649.59,97.10 L650.08,97.09 L650.57,97.07 L651.07,97.06 L651.56,97.04 L652.05,97.03 L652.55,97.01 L653.04,97.00 L653.53,96.99 L654.03,96.97 L654.52,96.96 L655.01,96.94 L655.51,96.93 L656.00,96.92 L656.49,96.90 L656.99,96.89 L657.48,96.88 L657.97,96.86 L658.47,96.85 L658.96,96.84 L659.45,96.82 L659.95,96.81 L660.44,96.80 L660.93,96.79 L661.43,96.77 L661.92,96.76 L662.41,96.75 L662.91,96.73 L663.40,96.72 L663.89,96.71 L664.39,96.70 L664.88,96.69 L665.37,96.67 L665.87,96.66 L666.36,96.65 L666.85,96.64 L667.35,96.63 L667.84,96.61 L668.33,96.60 L668.82,96.59 L669.32,96.58 L669.81,96.57 L670.30,96.56 L670.80,96.54 L671.29,96.53 L671.78,96.52 L672.28,96.51 L672.77,96.50 L673.26,96.49 L673.76,96.48 L674.25,96.47 L674.74,96.45 L675.24,96.44 L675.73,96.43 L676.22,96.42 L676.72,96.41 L677.21,96.40 L677.70,96.39 L678.20,96.38 L678.69,96.37 L679.18,96.36 L679.68,96.35 L680.17,96.34 L680.66,96.33 L681.16,96.32 L681.65,96.31 L682.14,96.30 L682.64,96.29 L683.13,96.28 L683.62,96.27 L684.12,96.26 L684.61,96.25 L685.10,96.24 L685.60,96.23 L686.09,96.22 L686.58,96.21 L687.08,96.20 L687.57,96.20 L688.06,96.19 L688.56,96.18 L689.05,96.17 L689.54,96.16 L690.04,96.15 L690.53,96.14 L691.02,96.13 L691.52,96.12 L692.01,96.12 L692.50,96.11 L693.00,96.10 L693.49,96.09 L693.98,96.08 L694.48,96.07 L694.97,96.06 L695.46,96.06 L695.96,96.05 L696.45,96.04 L696.94,96.03 L697.44,96.02 L697.93,96.02 L698.42,96.01 L698.92,96.00 L699.41,95.99 L699.90,95.98 L700.40,95.98 L700.89,95.97 L701.38,95.96 L701.88,95.95 L702.37,95.95 L702.86,95.94 L703.36,95.93 L703.85,95.92 L704.34,95.92 L704.84,95.91 L705.33,95.90 L705.82,95.90 L706.32,95.89 L706.81,95.88 L707.30,95.87 L707.80,95.87 L708.29,95.86 L708.78,95.85 L709.28,95.85 L709.77,95.84 L710.26,95.83 L710.76,95.83 L711.25,95.82 L711.74,95.81 L712.24,95.81 L712.73,95.80 L713.22,95.79 L713.72,95.79 L714.21,95.78 L714.70,95.78 L715.20,95.77 L715.69,95.76 L716.18,95.76 L716.68,95.75 L717.17,95.75 L717.66,95.74 L718.16,95.73 L718.65,95.73 L719.14,95.72 L719.64,95.72 L720.13,95.71 L720.62,95.70 L721.12,95.70 L721.61,95.69 L722.10,95.69 L722.60,95.68 L723.09,95.68 L723.58,95.67 L724.08,95.67 L724.57,95.66 L725.06,95.66 L725.56,95.65 L726.05,95.65 L726.54,95.64 L727.04,95.64 L727.53,95.63 L728.02,95.63 L728.52,95.62 L729.01,95.62 L729.50,95.61 L730.00,95.61 L730.49,95.60 L730.98,95.60 L731.48,95.59 L731.97,95.59 L732.46,95.58 L732.95,95.58 L733.45,95.57 L733.94,95.57 L734.43,95.56 L734.93,95.56 L735.42,95.56 L735.91,95.55 L736.41,95.55 L736.90,95.54 L737.39,95.54 L737.89,95.54 L738.38,95.53 L738.87,95.53 L739.37,95.52 L739.86,95.52 L740.35,95.52 L740.85,95.51 L741.34,95.51 L741.83,95.50 L742.33,95.50 L742.82,95.50 L743.31,95.49 L743.81,95.49 L744.30,95.49 L744.79,95.48 L745.29,95.48 L745.78,95.47 L746.27,95.47 L746.77,95.47 L747.26,95.46 L747.75,95.46 L748.25,95.46 L748.74,95.45 L749.23,95.45 L749.73,95.45 L750.22,95.45 L750.71,95.44 L751.21,95.44 L751.70,95.44 L752.19,95.43 L752.69,95.43 L753.18,95.43 L753.67,95.42 L754.17,95.42 L754.66,95.42 L755.15,95.42 L755.65,95.41 L756.14,95.41 L756.63,95.41 L757.13,95.41 L757.62,95.40 L758.11,95.40 L758.61,95.40 L759.10,95.39 L759.59,95.39 L760.09,95.39 L760.58,95.39 L761.07,95.39 L761.57,95.38 L762.06,95.38 L762.55,95.38 L763.05,95.38 L763.54,95.37 L764.03,95.37 L764.53,95.37 L765.02,95.37 L765.51,95.37 L766.01,95.36 L766.50,95.36 L766.99,95.36 L767.49,95.36 L767.98,95.36 L768.47,95.35 L768.97,95.35 L769.46,95.35 L769.95,95.35 L770.45,95.35 L770.94,95.34 L771.43,95.34 L771.93,95.34 L772.42,95.34 L772.91,95.34 L773.41,95.34 L773.90,95.34 L774.39,95.33 L774.89,95.33 L775.38,95.33 L775.87,95.33 L776.37,95.33 L776.86,95.33 L777.35,95.33 L777.85,95.32 L778.34,95.32 L778.83,95.32 L779.33,95.32 L779.82,95.32 L780.31,95.32 L780.81,95.32 L781.30,95.32 L781.79,95.32" stroke="#0000a8"/>
<path d="M139.51,475.93 L140.00,471.74 L140.49,467.63 L140.99,463.60 L141.48,459.63 L141.97,455.74 L142.47,451.91 L142.96,448.15 L143.45,444.46 L143.95,440.83 L144.44,437.26 L144.93,433.75 L145.43,430.30 L145.92,426.91 L146.41,423.57 L146.91,420.29 L147.40,417.06 L147.89,413.88 L148.39,410.76 L148.88,407.68 L149.37,404.65 L149.87,401.67 L150.36,398.74 L150.85,395.85 L151.35,393.01 L151.84,390.21 L152.33,387.45 L152.83,384.73 L153.32,382.06 L153.81,379.42 L154.31,376.82 L154.80,374.26 L155.29,371.74 L155.79,369.26 L156.28,366.81 L156.77,364.39 L157.27,362.01 L157.76,359.67 L158.25,357.35 L158.75,355.07 L159.24,352.82 L159.73,350.60 L160.23,348.41 L160.72,346.25 L161.21,344.12 L161.70,342.02 L162.20,339.95 L162.69,337.91 L163.18,335.89 L163.68,333.90 L164.17,331.93 L164.66,329.99 L165.16,328.08 L165.65,326.19 L166.14,324.32 L166.64,322.48 L167.13,320.66 L167.62,318.86 L168.12,317.09 L168.61,315.34 L169.10,313.61 L169.60,311.90 L170.09,310.21 L170.58,308.54 L171.08,306.90 L171.57,305.27 L172.06,303.66 L172.56,302.07 L173.05,300.50 L173.54,298.95 L174.04,297.42 L174.53,295.91 L175.02,294.41 L175.52,292.93 L176.01,291.47 L176.50,290.02 L177.00,288.59 L177.49,287.18 L177.98,285.78 L178.48,284.40 L178.97,283.04 L179.46,281.69 L179.96,280.35 L180.45,279.03 L180.94,277.73 L181.44,276.43 L181.93,275.16 L182.42,273.89 L182.92,272.64 L183.41,271.41 L183.90,270.18 L184.40,268.97 L184.89,267.78 L185.38,266.59 L185.88,265.42 L186.37,264.26 L186.86,263.11 L187.36,261.98 L187.85,260.85 L188.34,259.74 L188.84,258.64 L189.33,257.55 L189.82,256.47 L190.32,255.40 L190.81,254.35 L191.30,253.30 L191.80,252.26 L192.29,251.24 L192.78,250.22 L193.28,249.22 L193.77,248.22 L194.26,247.24 L194.76,246.26 L195.25,245.30 L195.74,244.34 L196.24,243.39 L196.73,242.46 L197.22,241.53 L197.72,240.61 L198.21,239.69 L198.70,238.79 L199.20,237.90 L199.69,237.01 L200.18,236.13 L200.68,235.27 L201.17,234.40 L201.66,233.55 L202.16,232.71 L202.65,231.87 L203.14,231.04 L203.64,230.22 L204.13,229.40 L204.62,228.60 L205.12,227.80 L205.61,227.00 L206.10,226.22 L206.60,225.44 L207.09,224.67 L207.58,223.90 L208.08,223.15 L208.57,222.39 L209.06,221.65 L209.56,220.91 L210.05,220.18 L210.54,219.46 L211.04,218.74 L211.53,218.02 L212.02,217.32 L212.52,216.62 L213.01,215.92 L213.50,215.24 L214.00,214.55 L214.49,213.88 L214.98,213.21 L215.48,212.54 L215.97,211.88 L216.46,211.23 L216.96,210.58 L217.45,209.94 L217.94,209.30 L218.44,208.67 L218.93,208.04 L219.42,207.42 L219.92,206.80 L220.41,206.19 L220.90,205.58 L221.40,204.98 L221.89,204.38 L222.38,203.79 L222.88,203.21 L223.37,202.62 L223.86,202.05 L224.36,201.47 L224.85,200.90 L225.34,200.34 L225.83,199.78 L226.33,199.23 L226.82,198.67 L227.31,198.13 L227.81,197.59 L228.30,197.05 L228.79,196.51 L229.29,195.99 L229.78,195.46 L230.27,194.94 L230.77,194.42 L231.26,193.91 L231.75,193.40 L232.25,192.89 L232.74,192.39 L233.23,191.89 L233.73,191.40 L234.22,190.91 L234.71,190.42 L235.21,189.94 L235.70,189.46 L236.19,188.99 L236.69,188.51 L237.18,188.05 L237.67,187.58 L238.17,187.12 L238.66,186.66 L239.15,186.21 L239.65,185.76 L240.14,185.31 L240.63,184.86 L241.13,184.42 L241.62,183.98 L242.11,183.55 L242.61,183.12 L243.10,182.69 L243.59,182.26 L244.09,181.84 L244.58,181.42 L245.07,181.00 L245.57,180.59 L246.06,180.18 L246.55,179.77 L247.05,179.37 L247.54,178.96 L248.03,178.56 L248.53,178.17 L249.02,177.77 L249.51,177.38 L250.01,177.00 L250.50,176.61 L250.99,176.23 L251.49,175.85 L251.98,175.47 L252.47,175.10 L252.97,174.72 L253.46,174.35 L253.95,173.99 L254.45,173.62 L254.94,173.26 L255.43,172.90 L255.93,172.54 L256.42,172.19 L256.91,171.84 L257.41,171.49 L257.90,171.14 L258.39,170.79 L258.89,170.45 L259.38,170.11 L259.87,169.77 L260.37,169.44 L260.86,169.10 L261.35,168.77 L261.85,168.44 L262.34,168.11 L262.83,167.79 L263.33,167.47 L263.82,167.15 L264.31,166.83 L264.81,166.51 L265.30,166.20 L265.79,165.88 L266.29,165.57 L266.78,165.26 L267.27,164.96 L267.77,164.65 L268.26,164.35 L268.75,164.05 L269.25,163.75 L269.74,163.46 L270.23,163.16 L270.73,162.87 L271.22,162.58 L271.71,162.29 L272.21,162.00 L272.70,161.72 L273.19,161.43 L273.69,161.15 L274.18,160.87 L274.67,160.59 L275.17,160.31 L275.66,160.04 L276.15,159.77 L276.65,159.49 L277.14,159.23 L277.63,158.96 L278.13,158.69 L278.62,158.43 L279.11,158.16 L279.61,157.90 L280.10,157.64 L280.59,157.38 L281.09,157.13 L281.58,156.87 L282.07,156.62 L282.57,156.37 L283.06,156.11 L283.55,155.87 L284.05,155.62 L284.54,155.37 L285.03,155.13 L285.53,154.89 L286.02,154.64 L286.51,154.40 L287.01,154.16 L287.50,153.93 L287.99,153.69 L288.48,153.46 L288.98,153.22 L289.47,152.99 L289.96,152.76 L290.46,152.53 L290.95,152.31 L291.44,152.08 L291.94,151.85 L292.43,151.63 L292.92,151.41 L293.42,151.19 L293.91,150.97 L294.40,150.75 L294.90,150.53 L295.39,150.32 L295.88,150.10 L296.38,149.89 L296.87,149.68 L297.36,149.47 L297.86,149.26 L298.35,149.05 L298.84,148.84 L299.34,148.64 L299.83,148.43 L300.32,148.23 L300.82,148.02 L301.31,147.82 L301.80,147.62 L302.30,147.42 L302.79,147.23 L303.28,147.03 L303.78,146.83 L304.27,146.64 L304.76,146.45 L305.26,146.25 L305.75,146.06 L306.24,145.87 L306.74,145.68 L307.23,145.49 L307.72,145.31 L308.22,145.12 L308.71,144.94 L309.20,144.75 L309.70,144.57 L310.19,144.39 L310.68,144.21 L311.18,144.03 L311.67,143.85 L312.16,143.67 L312.66,143.49 L313.15,143.32 L313.64,143.14 L314.14,142.97 L314.63,142.79 L315.12,142.62 L315.62,142.45 L316.11,142.28 L316.60,142.11 L317.10,141.94 L317.59,141.78 L318.08,141.61 L318.58,141.44 L319.07,141.28 L319.56,141.11 L320.06,140.95 L320.55,140.79 L321.04,140.63 L321.54,140.47 L322.03,140.31 L322.52,140.15 L323.02,139.99 L323.51,139.83 L324.00,139.68 L324.50,139.52 L324.99,139.37 L325.48,139.21 L325.98,139.06 L326.47,138.91 L326.96,138.76 L327.46,138.61 L327.95,138.46 L328.44,138.31 L328.94,138.16 L329.43,138.01 L329.92,137.87 L330.42,137.72 L330.91,137.58 L331.40,137.43 L331.90,137.29 L332.39,137.15 L332.88,137.00 L333.38,136.86 L333.87,136.72 L334.36,136.58 L334.86,136.44 L335.35,136.30 L335.84,136.17 L336.34,136.03 L336.83,135.89 L337.32,135.76 L337.82,135.62 L338.31,135.49 L338.80,135.36 L339.30,135.22 L339.79,135.09 L340.28,134.96 L340.78,134.83 L341.27,134.70 L341.76,134.57 L342.26,134.44 L342.75,134.31 L343.24,134.18 L343.74,134.06 L344.23,133.93 L344.72,133.80 L345.22,133.68 L345.71,133.56 L346.20,133.43 L346.70,133.31 L347.19,133.19 L347.68,133.06 L348.18,132.94 L348.67,132.82 L349.16,132.70 L349.66,132.58 L350.15,132.46 L350.64,132.35 L351.14,132.23 L351.63,132.11 L352.12,131.99 L352.61,131.88 L353.11,131.76 L353.60,131.65 L354.09,131.53 L354.59,131.42 L355.08,131.31 L355.57,131.19 L356.07,131.08 L356.56,130.97 L357.05,130.86 L357.55,130.75 L358.04,130.64 L358.53,130.53 L359.03,130.42 L359.52,130.31 L360.01,130.20 L360.51,130.10 L361.00,129.99 L361.49,129.88 L361.99,129.78 L362.48,129.67 L362.97,129.57 L363.47,129.46 L363.96,129.36 L364.45,129.26 L364.95,129.16 L365.44,129.05 L365.93,128.95 L366.43,128.85 L366.92,128.75 L367.41,128.65 L367.91,128.55 L368.40,128.45 L368.89,128.35 L369.39,128.25 L369.88,128.16 L370.37,128.06 L370.87,127.96 L371.36,127.86 L371.85,127.77 L372.35,127.67 L372.84,127.58 L373.33,127.48 L373.83,127.39 L374.32,127.29 L374.81,127.20 L375.31,127.11 L375.80,127.02 L376.29,126.92 L376.79,126.83 L377.28,126.74 L377.77,126.65 L378.27,126.56 L378.76,126.47 L379.25,126.38 L379.75,126.29 L380.24,126.20 L380.73,126.11 L381.23,126.03 L381.72,125.94 L382.21,125.85 L382.71,125.77 L383.20,125.68 L383.69,125.59 L384.19,125.51 L384.68,125.42 L385.17,125.34 L385.67,125.25 L386.16,125.17 L386.65,125.09 L387.15,125.00 L387.64,124.92 L388.13,124.84 L388.63,124.76 L389.12,124.67 L389.61,124.59 L390.11,124.51 L390.60,124.43 L391.09,124.35 L391.59,124.27 L392.08,124.19 L392.57,124.11 L393.07,124.03 L393.56,123.96 L394.05,123.88 L394.55,123.80 L395.04,123.72 L395.53,123.65 L396.03,123.57 L396.52,123.49 L397.01,123.42 L397.51,123.34 L398.00,123.27 L398.49,123.19 L398.99,123.12 L399.48,123.04 L399.97,122.97 L400.47,122.90 L400.96,122.82 L401.45,122.75 L401.95,122.68 L402.44,122.61 L402.93,122.53 L403.43,122.46 L403.92,122.39 L404.41,122.32 L404.91,122.25 L405.40,122.18 L405.89,122.11 L406.39,122.04 L406.88,121.97 L407.37,121.90 L407.87,121.83 L408.36,121.76 L408.85,121.69 L409.35,121.63 L409.84,121.56 L410.33,121.49 L410.83,121.42 L411.32,121.36 L411.81,121.29 L412.31,121.23 L412.80,121.16 L413.29,121.09 L413.79,121.03 L414.28,120.96 L414.77,120.90 L415.26,120.83 L415.76,120.77 L416.25,120.71 L416.74,120.64 L417.24,120.58 L417.73,120.52 L418.22,120.45 L418.72,120.39 L419.21,120.33 L419.70,120.27 L420.20,120.21 L420.69,120.14 L421.18,120.08 L421.68,120.02 L422.17,119.96 L422.66,119.90 L423.16,119.84 L423.65,119.78 L424.14,119.72 L424.64,119.66 L425.13,119.60 L425.62,119.54 L426.12,119.49 L426.61,119.43 L427.10,119.37 L427.60,119.31 L428.09,119.25 L428.58,119.20 L429.08,119.14 L429.57,119.08 L430.06,119.03 L430.56,118.97 L431.05,118.91 L431.54,118.86 L432.04,118.80 L432.53,118.75 L433.02,118.69 L433.52,118.64 L434.01,118.58 L434.50,118.53 L435.00,118.47 L435.49,118.42 L435.98,118.37 L436.48,118.31 L436.97,118.26 L437.46,118.21 L437.96,118.15 L438.45,118.10 L438.94,118.05 L439.44,118.00 L439.93,117.94 L440.42,117.89 L440.92,117.84 L441.41,117.79 L441.90,117.74 L442.40,117.69 L442.89,117.64 L443.38,117.59 L443.88,117.54 L444.37,117.49 L444.86,117.44 L445.36,117.39 L445.85,117.34 L446.34,117.29 L446.84,117.24 L447.33,117.19 L447.82,117.14 L448.32,117.09 L448.81,117.04 L449.30,117.00 L449.80,116.95 L450.29,116.90 L450.78,116.85 L451.28,116.81 L451.77,116.76 L452.26,116.71 L452.76,116.66 L453.25,116.62 L453.74,116.57 L454.24,116.53 L454.73,116.48 L455.22,116.43 L455.72,116.39 L456.21,116.34 L456.70,116.30 L457.20,116.25 L457.69,116.21 L458.18,116.16 L458.68,116.12 L459.17,116.08 L459.66,116.03 L460.16,115.99 L460.65,115.94 L461.14,115.90 L461.64,115.86 L462.13,115.81 L462.62,115.77 L463.12,115.73 L463.61,115.69 L464.10,115.64 L464.60,115.60 L465.09,115.56 L465.58,115.52 L466.08,115.48 L466.57,115.43 L467.06,115.39 L467.56,115.35 L468.05,115.31 L468.54,115.27 L469.04,115.23 L469.53,115.19 L470.02,115.15 L470.52,115.11 L471.01,115.07 L471.50,115.03 L472.00,114.99 L472.49,114.95 L472.98,114.91 L473.48,114.87 L473.97,114.83 L474.46,114.79 L474.96,114.75 L475.45,114.71 L475.94,114.67 L476.44,114.64 L476.93,114.60 L477.42,114.56 L477.92,114.52 L478.41,114.48 L478.90,114.45 L479.39,114.41 L479.89,114.37 L480.38,114.34 L480.87,114.30 L481.37,114.26 L481.86,114.22 L482.35,114.19 L482.85,114.15 L483.34,114.12 L483.83,114.08 L484.33,114.04 L484.82,114.01 L485.31,113.97 L485.81,113.94 L486.30,113.90 L486.79,113.87 L487.29,113.83 L487.78,113.80 L488.27,113.76 L488.77,113.73 L489.26,113.69 L489.75,113.66 L490.25,113.62 L490.74,113.59 L491.23,113.55 L491.73,113.52 L492.22,113.49 L492.71,113.45 L493.21,113.42 L493.70,113.39 L494.19,113.35 L494.69,113.32 L495.18,113.29 L495.67,113.25 L496.17,113.22 L496.66,113.19 L497.15,113.16 L497.65,113.12 L498.14,113.09 L498.63,113.06 L499.13,113.03 L499.62,113.00 L500.11,112.96 L500.61,112.93 L501.10,112.90 L501.59,112.87 L502.09,112.84 L502.58,112.81 L503.07,112.78 L503.57,112.75 L504.06,112.72 L504.55,112.69 L505.05,112.65 L505.54,112.62 L506.03,112.59 L506.53,112.56 L507.02,112.53 L507.51,112.50 L508.01,112.47 L508.50,112.44 L508.99,112.42 L509.49,112.39 L509.98,112.36 L510.47,112.33 L510.97,112.30 L511.46,112.27 L511.95,112.24 L512.45,112.21 L512.94,112.18 L513.43,112.16 L513.93,112.13 L514.42,112.10 L514.91,112.07 L515.41,112.04 L515.90,112.01 L516.39,111.99 L516.89,111.96 L517.38,111.93 L517.87,111.90 L518.37,111.88 L518.86,111.85 L519.35,111.82 L519.85,111.79 L520.34,111.77 L520.83,111.74 L521.33,111.71 L521.82,111.69 L522.31,111.66 L522.81,111.63 L523.30,111.61 L523.79,111.58 L524.29,111.56 L524.78,111.53 L525.27,111.50 L525.77,111.48 L526.26,111.45 L526.75,111.43 L527.25,111.40 L527.74,111.38 L528.23,111.35 L528.73,111.32 L529.22,111.30 L529.71,111.27 L530.21,111.25 L530.70,111.22 L531.19,111.20 L531.69,111.18 L532.18,111.15 L532.67,111.13 L533.17,111.10 L533.66,111.08 L534.15,111.05 L534.65,111.03 L535.14,111.01 L535.63,110.98 L536.13,110.96 L536.62,110.93 L537.11,110.91 L537.61,110.89 L538.10,110.86 L538.59,110.84 L539.09,110.82 L539.58,110.79 L540.07,110.77 L540.57,110.75 L541.06,110.72 L541.55,110.70 L542.04,110.68 L542.54,110.66 L543.03,110.63 L543.52,110.61 L544.02,110.59 L544.51,110.57 L545.00,110.54 L545.50,110.52 L545.99,110.50 L546.48,110.48 L546.98,110.46 L547.47,110.43 L547.96,110.41 L548.46,110.39 L548.95,110.37 L549.44,110.35 L549.94,110.33 L550.43,110.30 L550.92,110.28 L551.42,110.26 L551.91,110.24 L552.40,110.22 L552.90,110.20 L553.39,110.18 L553.88,110.16 L554.38,110.14 L554.87,110.12 L555.36,110.10 L555.86,110.08 L556.35,110.06 L556.84,110.04 L557.34,110.01 L557.83,109.99 L558.32,109.97 L558.82,109.95 L559.31,109.93 L559.80,109.92 L560.30,109.90 L560.79,109.88 L561.28,109.86 L561.78,109.84 L562.27,109.82 L562.76,109.80 L563.26,109.78 L563.75,109.76 L564.24,109.74 L564.74,109.72 L565.23,109.70 L565.72,109.68 L566.22,109.66 L566.71,109.65 L567.20,109.63 L567.70,109.61 L568.19,109.59 L568.68,109.57 L569.18,109.55 L569.67,109.53 L570.16,109.52 L570.66,109.50 L571.15,109.48 L571.64,109.46 L572.14,109.44 L572.63,109.43 L573.12,109.41 L573.62,109.39 L574.11,109.37 L574.60,109.35 L575.10,109.34 L575.59,109.32 L576.08,109.30 L576.58,109.28 L577.07,109.27 L577.56,109.25 L578.06,109.23 L578.55,109.22 L579.04,109.20 L579.54,109.18 L580.03,109.16 L580.52,109.15 L581.02,109.13 L581.51,109.11 L582.00,109.10 L582.50,109.08 L582.99,109.06 L583.48,109.05 L583.98,109.03 L584.47,109.02 L584.96,109.00 L585.46,108.98 L585.95,108.97 L586.44,108.95 L586.94,108.93 L587.43,108.92 L587.92,108.90 L588.42,108.89 L588.91,108.87 L589.40,108.85 L589.90,108.84 L590.39,108.82 L590.88,108.81 L591.38,108.79 L591.87,108.78 L592.36,108.76 L592.86,108.75 L593.35,108.73 L593.84,108.72 L594.34,108.70 L594.83,108.69 L595.32,108.67 L595.82,108.66 L596.31,108.64 L596.80,108.63 L597.30,108.61 L597.79,108.60 L598.28,108.58 L598.78,108.57 L599.27,108.55 L599.76,108.54 L600.26,108.52 L600.75,108.51 L601.24,108.49 L601.74,108.48 L602.23,108.47 L602.72,108.45 L603.22,108.44 L603.71,108.42 L604.20,108.41 L604.70,108.40 L605.19,108.38 L605.68,108.37 L606.17,108.35 L606.67,108.34 L607.16,108.33 L607.65,108.31 L608.15,108.30 L608.64,108.29 L609.13,108.27 L609.63,108.26 L610.12,108.24 L610.61,108.23 L611.11,108.22 L611.60,108.20 L612.09,108.19 L612.59,108.18 L613.08,108.17 L613.57,108.15 L614.07,108.14 L614.56,108.13 L615.05,108.11 L615.55,108.10 L616.04,108.09 L616.53,108.07 L617.03,108.06 L617.52,108.05 L618.01,108.04 L618.51,108.02 L619.00,108.01 L619.49,108.00 L619.99,107.99 L620.48,107.97 L620.97,107.96 L621.47,107.95 L621.96,107.94 L622.45,107.93 L622.95,107.91 L623.44,107.90 L623.93,107.89 L624.43,107.88 L624.92,107.87 L625.41,107.85 L625.91,107.84 L626.40,107.83 L626.89,107.82 L627.39,107.81 L627.88,107.79 L628.37,107.78 L628.87,107.77 L629.36,107.76 L629.85,107.75 L630.35,107.74 L630.84,107.73 L631.33,107.71 L631.83,107.70 L632.32,107.69 L632.81,107.68 L633.31,107.67 L633.80,107.66 L634.29,107.65 L634.79,107.64 L635.28,107.62 L635.77,107.61 L636.27,107.60 L636.76,107.59 L637.25,107.58 L637.75,107.57 L638.24,107.56 L638.73,107.55 L639.23,107.54 L639.72,107.53 L640.21,107.52 L640.71,107.51 L641.20,107.50 L641.69,107.49 L642.19,107.47 L642.68,107.46 L643.17,107.45 L643.67,107.44 L644.16,107.43 L644.65,107.42 L645.15,107.41 L645.64,107.40 L646.13,107.39 L646.63,107.38 L647.12,107.37 L647.61,107.36 L648.11,107.35 L648.60,107.34 L649.09,107.33 L649.59,107.32 L650.08,107.31 L650.57,107.30 L651.07,107.29 L651.56,107.28 L652.05,107.27 L652.55,107.26 L653.04,107.26 L653.53,107.25 L654.03,107.24 L654.52,107.23 L655.01,107.22 L655.51,107.21 L656.00,107.20 L656.49,107.19 L656.99,107.18 L657.48,107.17 L657.97,107.16 L658.47,107.15 L658.96,107.14 L659.45,107.13 L659.95,107.13 L660.44,107.12 L660.93,107.11 L661.43,107.10 L661.92,107.09 L662.41,107.08 L662.91,107.07 L663.40,107.06 L663.89,107.05 L664.39,107.05 L664.88,107.04 L665.37,107.03 L665.87,107.02 L666.36,107.01 L666.85,107.00 L667.35,106.99 L667.84,106.98 L668.33,106.98 L668.82,106.97 L669.32,106.96 L669.81,106.95 L670.30,106.94 L670.80,106.93 L671.29,106.93 L671.78,106.92 L672.28,106.91 L672.77,106.90 L673.26,106.89 L673.76,106.89 L674.25,106.88 L674.74,106.87 L675.24,106.86 L675.73,106.85 L676.22,106.85 L676.72,106.84 L677.21,106.83 L677.70,106.82 L678.20,106.81 L678.69,106.81 L679.18,106.80 L679.68,106.79 L680.17,106.78 L680.66,106.78 L681.16,106.77 L681.65,106.76 L682.14,106.75 L682.64,106.75 L683.13,106.74 L683.62,106.73 L684.12,106.72 L684.61,106.72 L685.10,106.71 L685.60,106.70 L686.09,106.69 L686.58,106.69 L687.08,106.68 L687.57,106.67 L688.06,106.66 L688.56,106.66 L689.05,106.65 L689.54,106.64 L690.04,106.64 L690.53,106.63 L691.02,106.62 L691.52,106.61 L692.01,106.61 L692.50,106.60 L693.00,106.59 L693.49,106.59 L693.98,106.58 L694.48,106.57 L694.97,106.57 L695.46,106.56 L695.96,106.55 L696.45,106.55 L696.94,106.54 L697.44,106.53 L697.93,106.53 L698.42,106.52 L698.92,106.51 L699.41,106.51 L699.90,106.50 L700.40,106.49 L700.89,106.49 L701.38,106.48 L701.88,106.47 L702.37,106.47 L702.86,106.46 L703.36,106.46 L703.85,106.45 L704.34,106.44 L704.84,106.44 L705.33,106.43 L705.82,106.42 L706.32,106.42 L706.81,106.41 L707.30,106.41 L707.80,106.40 L708.29,106.39 L708.78,106.39 L709.28,106.38 L709.77,106.38 L710.26,106.37 L710.76,106.36 L711.25,106.36 L711.74,106.35 L712.24,106.35 L712.73,106.34 L713.22,106.33 L713.72,106.33 L714.21,106.32 L714.70,106.32 L715.20,106.31 L715.69,106.31 L716.18,106.30 L716.68,106.29 L717.17,106.29 L717.66,106.28 L718.16,106.28 L718.65,106.27 L719.14,106.27 L719.64,106.26 L720.13,106.25 L720.62,106.25 L721.12,106.24 L721.61,106.24 L722.10,106.23 L722.60,106.23 L723.09,106.22 L723.58,106.22 L724.08,106.21 L724.57,106.21 L725.06,106.20 L725.56,106.20 L726.05,106.19 L726.54,106.19 L727.04,106.18 L727.53,106.18 L728.02,106.17 L728.52,106.17 L729.01,106.16 L729.50,106.16 L730.00,106.15 L730.49,106.15 L730.98,106.14 L731.48,106.14 L731.97,106.13 L732.46,106.13 L732.95,106.12 L733.45,106.12 L733.94,106.11 L734.43,106.11 L734.93,106.10 L735.42,106.10 L735.91,106.09 L736.41,106.09 L736.90,106.08 L737.39,106.08 L737.89,106.07 L738.38,106.07 L738.87,106.06 L739.37,106.06 L739.86,106.05 L740.35,106.05 L740.85,106.05 L741.34,106.04 L741.83,106.04 L742.33,106.03 L742.82,106.03 L743.31,106.02 L743.81,106.02 L744.30,106.01 L744.79,106.01 L745.29,106.01 L745.78,106.00 L746.27,106.00 L746.77,105.99 L747.26,105.99 L747.75,105.98 L748.25,105.98 L748.74,105.98 L749.23,105.97 L749.73,105.97 L750.22,105.96 L750.71,105.96 L751.21,105.95 L751.70,105.95 L752.19,105.95 L752.69,105.94 L753.18,105.94 L753.67,105.93 L754.17,105.93 L754.66,105.93 L755.15,105.92 L755.65,105.92 L756.14,105.91 L756.63,105.91 L757.13,105.91 L757.62,105.90 L758.11,105.90 L758.61,105.89 L759.10,105.89 L759.59,105.89 L760.09,105.88 L760.58,105.88 L761.07,105.88 L761.57,105.87 L762.06,105.87 L762.55,105.86 L763.05,105.86 L763.54,105.86 L764.03,105.85 L764.53,105.85 L765.02,105.85 L765.51,105.84 L766.01,105.84 L766.50,105.84 L766.99,105.83 L767.49,105.83 L767.98,105.83 L768.47,105.82 L768.97,105.82 L769.46,105.81 L769.95,105.81 L770.45,105.81 L770.94,105.80 L771.43,105.80 L771.93,105.80 L772.42,105.79 L772.91,105.79 L773.41,105.79 L773.90,105.78 L774.39,105.78 L774.89,105.78 L775.38,105.77 L775.87,105.77 L776.37,105.77 L776.86,105.76 L777.35,105.76 L777.85,105.76 L778.34,105.76 L778.83,105.75 L779.33,105.75 L779.82,105.75 L780.31,105.74 L780.81,105.74 L781.30,105.74 L781.79,105.73" stroke="#ff0000"/>
<path d="M122.73,472.40 L123.23,466.27 L123.72,460.30 L124.21,454.50 L124.71,448.85 L125.20,443.35 L125.69,438.00 L126.19,432.78 L126.68,427.70 L127.17,422.75 L127.67,417.93 L128.16,413.22 L128.65,408.63 L129.15,404.15 L129.64,399.78 L130.13,395.51 L130.63,391.35 L131.12,387.28 L131.61,383.30 L132.11,379.42 L132.60,375.62 L133.09,371.92 L133.59,368.29 L134.08,364.74 L134.57,361.27 L135.07,357.88 L135.56,354.56 L136.05,351.31 L136.55,348.13 L137.04,345.01 L137.53,341.96 L138.03,338.97 L138.52,336.05 L139.01,333.18 L139.51,330.37 L140.00,327.62 L140.49,324.92 L140.99,322.27 L141.48,319.67 L141.97,317.13 L142.47,314.63 L142.96,312.18 L143.45,309.78 L143.95,307.42 L144.44,305.10 L144.93,302.83 L145.43,300.60 L145.92,298.41 L146.41,296.26 L146.91,294.15 L147.40,292.07 L147.89,290.03 L148.39,288.03 L148.88,286.06 L149.37,284.13 L149.87,282.22 L150.36,280.36 L150.85,278.52 L151.35,276.71 L151.84,274.93 L152.33,273.19 L152.83,271.47 L153.32,269.78 L153.81,268.11 L154.31,266.48 L154.80,264.87 L155.29,263.28 L155.79,261.72 L156.28,260.19 L156.77,258.68 L157.27,257.19 L157.76,255.72 L158.25,254.28 L158.75,252.86 L159.24,251.46 L159.73,250.08 L160.23,248.72 L160.72,247.39 L161.21,246.07 L161.70,244.77 L162.20,243.49 L162.69,242.23 L163.18,240.99 L163.68,239.76 L164.17,238.56 L164.66,237.37 L165.16,236.19 L165.65,235.04 L166.14,233.89 L166.64,232.77 L167.13,231.66 L167.62,230.57 L168.12,229.49 L168.61,228.42 L169.10,227.37 L169.60,226.34 L170.09,225.31 L170.58,224.30 L171.08,223.31 L171.57,222.33 L172.06,221.36 L172.56,220.40 L173.05,219.46 L173.54,218.52 L174.04,217.60 L174.53,216.70 L175.02,215.80 L175.52,214.91 L176.01,214.04 L176.50,213.18 L177.00,212.32 L177.49,211.48 L177.98,210.65 L178.48,209.83 L178.97,209.02 L179.46,208.21 L179.96,207.42 L180.45,206.64 L180.94,205.87 L181.44,205.10 L181.93,204.35 L182.42,203.60 L182.92,202.87 L183.41,202.14 L183.90,201.42 L184.40,200.71 L184.89,200.00 L185.38,199.31 L185.88,198.62 L186.37,197.94 L186.86,197.27 L187.36,196.61 L187.85,195.95 L188.34,195.30 L188.84,194.66 L189.33,194.02 L189.82,193.40 L190.32,192.78 L190.81,192.16 L191.30,191.56 L191.80,190.95 L192.29,190.36 L192.78,189.77 L193.28,189.19 L193.77,188.62 L194.26,188.05 L194.76,187.49 L195.25,186.93 L195.74,186.38 L196.24,185.83 L196.73,185.29 L197.22,184.76 L197.72,184.23 L198.21,183.71 L198.70,183.19 L199.20,182.68 L199.69,182.17 L200.18,181.67 L200.68,181.17 L201.17,180.68 L201.66,180.20 L202.16,179.71 L202.65,179.24 L203.14,178.76 L203.64,178.30 L204.13,177.83 L204.62,177.38 L205.12,176.92 L205.61,176.47 L206.10,176.03 L206.60,175.59 L207.09,175.15 L207.58,174.72 L208.08,174.29 L208.57,173.87 L209.06,173.45 L209.56,173.03 L210.05,172.62 L210.54,172.21 L211.04,171.81 L211.53,171.41 L212.02,171.01 L212.52,170.62 L213.01,170.23 L213.50,169.84 L214.00,169.46 L214.49,169.08 L214.98,168.71 L215.48,168.34 L215.97,167.97 L216.46,167.60 L216.96,167.24 L217.45,166.88 L217.94,166.53 L218.44,166.18 L218.93,165.83 L219.42,165.48 L219.92,165.14 L220.41,164.80 L220.90,164.46 L221.40,164.13 L221.89,163.80 L222.38,163.47 L222.88,163.15 L223.37,162.83 L223.86,162.51 L224.36,162.19 L224.85,161.88 L225.34,161.56 L225.83,161.26 L226.33,160.95 L226.82,160.65 L227.31,160.35 L227.81,160.05 L228.30,159.75 L228.79,159.46 L229.29,159.17 L229.78,158.88 L230.27,158.60 L230.77,158.31 L231.26,158.03 L231.75,157.75 L232.25,157.48 L232.74,157.20 L233.23,156.93 L233.73,156.66 L234.22,156.39 L234.71,156.13 L235.21,155.86 L235.70,155.60 L236.19,155.34 L236.69,155.09 L237.18,154.83 L237.67,154.58 L238.17,154.33 L238.66,154.08 L239.15,153.83 L239.65,153.59 L240.14,153.35 L240.63,153.10 L241.13,152.87 L241.62,152.63 L242.11,152.39 L242.61,152.16 L243.10,151.93 L243.59,151.70 L244.09,151.47 L244.58,151.24 L245.07,151.02 L245.57,150.79 L246.06,150.57 L246.55,150.35 L247.05,150.14 L247.54,149.92 L248.03,149.71 L248.53,149.49 L249.02,149.28 L249.51,149.07 L250.01,148.86 L250.50,148.66 L250.99,148.45 L251.49,148.25 L251.98,148.04 L252.47,147.84 L252.97,147.64 L253.46,147.45 L253.95,147.25 L254.45,147.06 L254.94,146.86 L255.43,146.67 L255.93,146.48 L256.42,146.29 L256.91,146.10 L257.41,145.92 L257.90,145.73 L258.39,145.55 L258.89,145.36 L259.38,145.18 L259.87,145.00 L260.37,144.82 L260.86,144.65 L261.35,144.47 L261.85,144.30 L262.34,144.12 L262.83,143.95 L263.33,143.78 L263.82,143.61 L264.31,143.44 L264.81,143.27 L265.30,143.11 L265.79,142.94 L266.29,142.78 L266.78,142.61 L267.27,142.45 L267.77,142.29 L268.26,142.13 L268.75,141.97 L269.25,141.81 L269.74,141.66 L270.23,141.50 L270.73,141.35 L271.22,141.19 L271.71,141.04 L272.21,140.89 L272.70,140.74 L273.19,140.59 L273.69,140.44 L274.18,140.30 L274.67,140.15 L275.17,140.00 L275.66,139.86 L276.15,139.72 L276.65,139.57 L277.14,139.43 L277.63,139.29 L278.13,139.15 L278.62,139.01 L279.11,138.88 L279.61,138.74 L280.10,138.60 L280.59,138.47 L281.09,138.33 L281.58,138.20 L282.07,138.07 L282.57,137.94 L283.06,137.80 L283.55,137.67 L284.05,137.55 L284.54,137.42 L285.03,137.29 L285.53,137.16 L286.02,137.04 L286.51,136.91 L287.01,136.79 L287.50,136.66 L287.99,136.54 L288.48,136.42 L288.98,136.30 L289.47,136.18 L289.96,136.06 L290.46,135.94 L290.95,135.82 L291.44,135.70 L291.94,135.59 L292.43,135.47 L292.92,135.35 L293.42,135.24 L293.91,135.13 L294.40,135.01 L294.90,134.90 L295.39,134.79 L295.88,134.68 L296.38,134.57 L296.87,134.46 L297.36,134.35 L297.86,134.24 L298.35,134.13 L298.84,134.02 L299.34,133.92 L299.83,133.81 L300.32,133.71 L300.82,133.60 L301.31,133.50 L301.80,133.40 L302.30,133.29 L302.79,133.19 L303.28,133.09 L303.78,132.99 L304.27,132.89 L304.76,132.79 L305.26,132.69 L305.75,132.59 L306.24,132.49 L306.74,132.39 L307.23,132.30 L307.72,132.20 L308.22,132.11 L308.71,132.01 L309.20,131.92 L309.70,131.82 L310.19,131.73 L310.68,131.64 L311.18,131.54 L311.67,131.45 L312.16,131.36 L312.66,131.27 L313.15,131.18 L313.64,131.09 L314.14,131.00 L314.63,130.91 L315.12,130.82 L315.62,130.73 L316.11,130.65 L316.60,130.56 L317.10,130.47 L317.59,130.39 L318.08,130.30 L318.58,130.22 L319.07,130.13 L319.56,130.05 L320.06,129.97 L320.55,129.88 L321.04,129.80 L321.54,129.72 L322.03,129.64 L322.52,129.56 L323.02,129.48 L323.51,129.40 L324.00,129.32 L324.50,129.24 L324.99,129.16 L325.48,129.08 L325.98,129.00 L326.47,128.92 L326.96,128.85 L327.46,128.77 L327.95,128.69 L328.44,128.62 L328.94,128.54 L329.43,128.47 L329.92,128.39 L330.42,128.32 L330.91,128.24 L331.40,128.17 L331.90,128.10 L332.39,128.02 L332.88,127.95 L333.38,127.88 L333.87,127.81 L334.36,127.74 L334.86,127.67 L335.35,127.60 L335.84,127.53 L336.34,127.46 L336.83,127.39 L337.32,127.32 L337.82,127.25 L338.31,127.18 L338.80,127.11 L339.30,127.05 L339.79,126.98 L340.28,126.91 L340.78,126.85 L341.27,126.78 L341.76,126.71 L342.26,126.65 L342.75,126.58 L343.24,126.52 L343.74,126.46 L344.23,126.39 L344.72,126.33 L345.22,126.26 L345.71,126.20 L346.20,126.14 L346.70,126.08 L347.19,126.01 L347.68,125.95 L348.18,125.89 L348.67,125.83 L349.16,125.77 L349.66,125.71 L350.15,125.65 L350.64,125.59 L351.14,125.53 L351.63,125.47 L352.12,125.41 L352.61,125.35 L353.11,125.29 L353.60,125.24 L354.09,125.18 L354.59,125.12 L355.08,125.06 L355.57,125.01 L356.07,124.95 L356.56,124.89 L357.05,124.84 L357.55,124.78 L358.04,124.73 L358.53,124.67 L359.03,124.62 L359.52,124.56 L360.01,124.51 L360.51,124.45 L361.00,124.40 L361.49,124.35 L361.99,124.29 L362.48,124.24 L362.97,124.19 L363.47,124.13 L363.96,124.08 L364.45,124.03 L364.95,123.98 L365.44,123.93 L365.93,123.88 L366.43,123.83 L366.92,123.77 L367.41,123.72 L367.91,123.67 L368.40,123.62 L368.89,123.57 L369.39,123.52 L369.88,123.48 L370.37,123.43 L370.87,123.38 L371.36,123.33 L371.85,123.28 L372.35,123.23 L372.84,123.18 L373.33,123.14 L373.83,123.09 L374.32,123.04 L374.81,123.00 L375.31,122.95 L375.80,122.90 L376.29,122.86 L376.79,122.81 L377.28,122.76 L377.77,122.72 L378.27,122.67 L378.76,122.63 L379.25,122.58 L379.75,122.54 L380.24,122.49 L380.73,122.45 L381.23,122.41 L381.72,122.36 L382.21,122.32 L382.71,122.27 L383.20,122.23 L383.69,122.19 L384.19,122.14 L384.68,122.10 L385.17,122.06 L385.67,122.02 L386.16,121.98 L386.65,121.93 L387.15,121.89 L387.64,121.85 L388.13,121.81 L388.63,121.77 L389.12,121.73 L389.61,121.69 L390.11,121.65 L390.60,121.61 L391.09,121.57 L391.59,121.53 L392.08,121.49 L392.57,121.45 L393.07,121.41 L393.56,121.37 L394.05,121.33 L394.55,121.29 L395.04,121.25 L395.53,121.21 L396.03,121.17 L396.52,121.13 L397.01,121.10 L397.51,121.06 L398.00,121.02 L398.49,120.98 L398.99,120.95 L399.48,120.91 L399.97,120.87 L400.47,120.84 L400.96,120.80 L401.45,120.76 L401.95,120.73 L402.44,120.69 L402.93,120.65 L403.43,120.62 L403.92,120.58 L404.41,120.55 L404.91,120.51 L405.40,120.48 L405.89,120.44 L406.39,120.41 L406.88,120.37 L407.37,120.34 L407.87,120.30 L408.36,120.27 L408.85,120.23 L409.35,120.20 L409.84,120.17 L410.33,120.13 L410.83,120.10 L411.32,120.07 L411.81,120.03 L412.31,120.00 L412.80,119.97 L413.29,119.93 L413.79,119.90 L414.28,119.87 L414.77,119.84 L415.26,119.80 L415.76,119.77 L416.25,119.74 L416.74,119.71 L417.24,119.68 L417.73,119.64 L418.22,119.61 L418.72,119.58 L419.21,119.55 L419.70,119.52 L420.20,119.49 L420.69,119.46 L421.18,119.43 L421.68,119.40 L422.17,119.37 L422.66,119.34 L423.16,119.31 L423.65,119.28 L424.14,119.25 L424.64,119.22 L425.13,119.19 L425.62,119.16 L426.12,119.13 L426.61,119.10 L427.10,119.07 L427.60,119.04 L428.09,119.01 L428.58,118.98 L429.08,118.96 L429.57,118.93 L430.06,118.90 L430.56,118.87 L431.05,118.84 L431.54,118.82 L432.04,118.79 L432.53,118.76 L433.02,118.73 L433.52,118.70 L434.01,118.68 L434.50,118.65 L435.00,118.62 L435.49,118.60 L435.98,118.57 L436.48,118.54 L436.97,118.52 L437.46,118.49 L437.96,118.46 L438.45,118.44 L438.94,118.41 L439.44,118.38 L439.93,118.36 L440.42,118.33 L440.92,118.31 L441.41,118.28 L441.90,118.26 L442.40,118.23 L442.89,118.20 L443.38,118.18 L443.88,118.15 L444.37,118.13 L444.86,118.10 L445.36,118.08 L445.85,118.05 L446.34,118.03 L446.84,118.01 L447.33,117.98 L447.82,117.96 L448.32,117.93 L448.81,117.91 L449.30,117.88 L449.80,117.86 L450.29,117.84 L450.78,117.81 L451.28,117.79 L451.77,117.77 L452.26,117.74 L452.76,117.72 L453.25,117.70 L453.74,117.67 L454.24,117.65 L454.73,117.63 L455.22,117.60 L455.72,117.58 L456.21,117.56 L456.70,117.54 L457.20,117.51 L457.69,117.49 L458.18,117.47 L458.68,117.45 L459.17,117.42 L459.66,117.40 L460.16,117.38 L460.65,117.36 L461.14,117.34 L461.64,117.31 L462.13,117.29 L462.62,117.27 L463.12,117.25 L463.61,117.23 L464.10,117.21 L464.60,117.19 L465.09,117.17 L465.58,117.14 L466.08,117.12 L466.57,117.10 L467.06,117.08 L467.56,117.06 L468.05,117.04 L468.54,117.02 L469.04,117.00 L469.53,116.98 L470.02,116.96 L470.52,116.94 L471.01,116.92 L471.50,116.90 L472.00,116.88 L472.49,116.86 L472.98,116.84 L473.48,116.82 L473.97,116.80 L474.46,116.78 L474.96,116.76 L475.45,116.74 L475.94,116.72 L476.44,116.70 L476.93,116.68 L477.42,116.66 L477.92,116.65 L478.41,116.63 L478.90,116.61 L479.39,116.59 L479.89,116.57 L480.38,116.55 L480.87,116.53 L481.37,116.51 L481.86,116.50 L482.35,116.48 L482.85,116.46 L483.34,116.44 L483.83,116.42 L484.33,116.41 L484.82,116.39 L485.31,116.37 L485.81,116.35 L486.30,116.33 L486.79,116.32 L487.29,116.30 L487.78,116.28 L488.27,116.26 L488.77,116.25 L489.26,116.23 L489.75,116.21 L490.25,116.19 L490.74,116.18 L491.23,116.16 L491.73,116.14 L492.22,116.13 L492.71,116.11 L493.21,116.09 L493.70,116.08 L494.19,116.06 L494.69,116.04 L495.18,116.03 L495.67,116.01 L496.17,115.99 L496.66,115.98 L497.15,115.96 L497.65,115.94 L498.14,115.93 L498.63,115.91 L499.13,115.89 L499.62,115.88 L500.11,115.86 L500.61,115.85 L501.10,115.83 L501.59,115.82 L502.09,115.80 L502.58,115.78 L503.07,115.77 L503.57,115.75 L504.06,115.74 L504.55,115.72 L505.05,115.71 L505.54,115.69 L506.03,115.68 L506.53,115.66 L507.02,115.65 L507.51,115.63 L508.01,115.62 L508.50,115.60 L508.99,115.59 L509.49,115.57 L509.98,115.56 L510.47,115.54 L510.97,115.53 L511.46,115.51 L511.95,115.50 L512.45,115.48 L512.94,115.47 L513.43,115.45 L513.93,115.44 L514.42,115.43 L514.91,115.41 L515.41,115.40 L515.90,115.38 L516.39,115.37 L516.89,115.36 L517.38,115.34 L517.87,115.33 L518.37,115.31 L518.86,115.30 L519.35,115.29 L519.85,115.27 L520.34,115.26 L520.83,115.25 L521.33,115.23 L521.82,115.22 L522.31,115.21 L522.81,115.19 L523.30,115.18 L523.79,115.17 L524.29,115.15 L524.78,115.14 L525.27,115.13 L525.77,115.11 L526.26,115.10 L526.75,115.09 L527.25,115.07 L527.74,115.06 L528.23,115.05 L528.73,115.03 L529.22,115.02 L529.71,115.01 L530.21,115.00 L530.70,114.98 L531.19,114.97 L531.69,114.96 L532.18,114.95 L532.67,114.93 L533.17,114.92 L533.66,114.91 L534.15,114.90 L534.65,114.88 L535.14,114.87 L535.63,114.86 L536.13,114.85 L536.62,114.84 L537.11,114.82 L537.61,114.81 L538.10,114.80 L538.59,114.79 L539.09,114.78 L539.58,114.77 L540.07,114.75 L540.57,114.74 L541.06,114.73 L541.55,114.72 L542.04,114.71 L542.54,114.70 L543.03,114.68 L543.52,114.67 L544.02,114.66 L544.51,114.65 L545.00,114.64 L545.50,114.63 L545.99,114.62 L546.48,114.60 L546.98,114.59 L547.47,114.58 L547.96,114.57 L548.46,114.56 L548.95,114.55 L549.44,114.54 L549.94,114.53 L550.43,114.52 L550.92,114.51 L551.42,114.49 L551.91,114.48 L552.40,114.47 L552.90,114.46 L553.39,114.45 L553.88,114.44 L554.38,114.43 L554.87,114.42 L555.36,114.41 L555.86,114.40 L556.35,114.39 L556.84,114.38 L557.34,114.37 L557.83,114.36 L558.32,114.35 L558.82,114.34 L559.31,114.33 L559.80,114.32 L560.30,114.31 L560.79,114.30 L561.28,114.29 L561.78,114.28 L562.27,114.27 L562.76,114.26 L563.26,114.25 L563.75,114.24 L564.24,114.23 L564.74,114.22 L565.23,114.21 L565.72,114.20 L566.22,114.19 L566.71,114.18 L567.20,114.17 L567.70,114.16 L568.19,114.15 L568.68,114.14 L569.18,114.13 L569.67,114.12 L570.16,114.11 L570.66,114.10 L571.15,114.09 L571.64,114.08 L572.14,114.08 L572.63,114.07 L573.12,114.06 L573.62,114.05 L574.11,114.04 L574.60,114.03 L575.10,114.02 L575.59,114.01 L576.08,114.00 L576.58,113.99 L577.07,113.98 L577.56,113.98 L578.06,113.97 L578.55,113.96 L579.04,113.95 L579.54,113.94 L580.03,113.93 L580.52,113.92 L581.02,113.91 L581.51,113.91 L582.00,113.90 L582.50,113.89 L582.99,113.88 L583.48,113.87 L583.98,113.86 L584.47,113.85 L584.96,113.85 L585.46,113.84 L585.95,113.83 L586.44,113.82 L586.94,113.81 L587.43,113.80 L587.92,113.80 L588.42,113.79 L588.91,113.78 L589.40,113.77 L589.90,113.76 L590.39,113.75 L590.88,113.75 L591.38,113.74 L591.87,113.73 L592.36,113.72 L592.86,113.71 L593.35,113.71 L593.84,113.70 L594.34,113.69 L594.83,113.68 L595.32,113.68 L595.82,113.67 L596.31,113.66 L596.80,113.65 L597.30,113.64 L597.79,113.64 L598.28,113.63 L598.78,113.62 L599.27,113.61 L599.76,113.61 L600.26,113.60 L600.75,113.59 L601.24,113.58 L601.74,113.58 L602.23,113.57 L602.72,113.56 L603.22,113.55 L603.71,113.55 L604.20,113.54 L604.70,113.53 L605.19,113.52 L605.68,113.52 L606.17,113.51 L606.67,113.50 L607.16,113.50 L607.65,113.49 L608.15,113.48 L608.64,113.47 L609.13,113.47 L609.63,113.46 L610.12,113.45 L610.61,113.45 L611.11,113.44 L611.60,113.43 L612.09,113.43 L612.59,113.42 L613.08,113.41 L613.57,113.40 L614.07,113.40 L614.56,113.39 L615.05,113.38 L615.55,113.38 L616.04,113.37 L616.53,113.36 L617.03,113.36 L617.52,113.35 L618.01,113.34 L618.51,113.34 L619.00,113.33 L619.49,113.32 L619.99,113.32 L620.48,113.31 L620.97,113.30 L621.47,113.30 L621.96,113.29 L622.45,113.29 L622.95,113.28 L623.44,113.27 L623.93,113.27 L624.43,113.26 L624.92,113.25 L625.41,113.25 L625.91,113.24 L626.40,113.23 L626.89,113.23 L627.39,113.22 L627.88,113.22 L628.37,113.21 L628.87,113.20 L629.36,113.20 L629.85,113.19 L630.35,113.19 L630.84,113.18 L631.33,113.17 L631.83,113.17 L632.32,113.16 L632.81,113.16 L633.31,113.15 L633.80,113.14 L634.29,113.14 L634.79,113.13 L635.28,113.13 L635.77,113.12 L636.27,113.11 L636.76,113.11 L637.25,113.10 L637.75,113.10 L638.24,113.09 L638.73,113.09 L639.23,113.08 L639.72,113.07 L640.21,113.07 L640.71,113.06 L641.20,113.06 L641.69,113.05 L642.19,113.05 L642.68,113.04 L643.17,113.03 L643.67,113.03 L644.16,113.02 L644.65,113.02 L645.15,113.01 L645.64,113.01 L646.13,113.00 L646.63,113.00 L647.12,112.99 L647.61,112.99 L648.11,112.98 L648.60,112.98 L649.09,112.97 L649.59,112.96 L650.08,112.96 L650.57,112.95 L651.07,112.95 L651.56,112.94 L652.05,112.94 L652.55,112.93 L653.04,112.93 L653.53,112.92 L654.03,112.92 L654.52,112.91 L655.01,112.91 L655.51,112.90 L656.00,112.90 L656.49,112.89 L656.99,112.89 L657.48,112.88 L657.97,112.88 L658.47,112.87 L658.96,112.87 L659.45,112.86 L659.95,112.86 L660.44,112.85 L660.93,112.85 L661.43,112.84 L661.92,112.84 L662.41,112.83 L662.91,112.83 L663.40,112.82 L663.89,112.82 L664.39,112.81 L664.88,112.81 L665.37,112.80 L665.87,112.80 L666.36,112.80 L666.85,112.79 L667.35,112.79 L667.84,112.78 L668.33,112.78 L668.82,112.77 L669.32,112.77 L669.81,112.76 L670.30,112.76 L670.80,112.75 L671.29,112.75 L671.78,112.75 L672.28,112.74 L672.77,112.74 L673.26,112.73 L673.76,112.73 L674.25,112.72 L674.74,112.72 L675.24,112.71 L675.73,112.71 L676.22,112.71 L676.72,112.70 L677.21,112.70 L677.70,112.69 L678.20,112.69 L678.69,112.68 L679.18,112.68 L679.68,112.68 L680.17,112.67 L680.66,112.67 L681.16,112.66 L681.65,112.66 L682.14,112.65 L682.64,112.65 L683.13,112.65 L683.62,112.64 L684.12,112.64 L684.61,112.63 L685.10,112.63 L685.60,112.63 L686.09,112.62 L686.58,112.62 L687.08,112.61 L687.57,112.61 L688.06,112.61 L688.56,112.60 L689.05,112.60 L689.54,112.59 L690.04,112.59 L690.53,112.59 L691.02,112.58 L691.52,112.58 L692.01,112.57 L692.50,112.57 L693.00,112.57 L693.49,112.56 L693.98,112.56 L694.48,112.55 L694.97,112.55 L695.46,112.55 L695.96,112.54 L696.45,112.54 L696.94,112.54 L697.44,112.53 L697.93,112.53 L698.42,112.52 L698.92,112.52 L699.41,112.52 L699.90,112.51 L700.40,112.51 L700.89,112.51 L701.38,112.50 L701.88,112.50 L702.37,112.50 L702.86,112.49 L703.36,112.49 L703.85,112.48 L704.34,112.48 L704.84,112.48 L705.33,112.47 L705.82,112.47 L706.32,112.47 L706.81,112.46 L707.30,112.46 L707.80,112.46 L708.29,112.45 L708.78,112.45 L709.28,112.45 L709.77,112.44 L710.26,112.44 L710.76,112.44 L711.25,112.43 L711.74,112.43 L712.24,112.43 L712.73,112.42 L713.22,112.42 L713.72,112.42 L714.21,112.41 L714.70,112.41 L715.20,112.41 L715.69,112.40 L716.18,112.40 L716.68,112.40 L717.17,112.39 L717.66,112.39 L718.16,112.39 L718.65,112.38 L719.14,112.38 L719.64,112.38 L720.13,112.37 L720.62,112.37 L721.12,112.37 L721.61,112.36 L722.10,112.36 L722.60,112.36 L723.09,112.36 L723.58,112.35 L724.08,112.35 L724.57,112.35 L725.06,112.34 L725.56,112.34 L726.05,112.34 L726.54,112.33 L727.04,112.33 L727.53,112.33 L728.02,112.32 L728.52,112.32 L729.01,112.32 L729.50,112.32 L730.00,112.31 L730.49,112.31 L730.98,112.31 L731.48,112.30 L731.97,112.30 L732.46,112.30 L732.95,112.30 L733.45,112.29 L733.94,112.29 L734.43,112.29 L734.93,112.28 L735.42,112.28 L735.91,112.28 L736.41,112.28 L736.90,112.27 L737.39,112.27 L737.89,112.27 L738.38,112.27 L738.87,112.26 L739.37,112.26 L739.86,112.26 L740.35,112.25 L740.85,112.25 L741.34,112.25 L741.83,112.25 L742.33,112.24 L742.82,112.24 L743.31,112.24 L743.81,112.24 L744.30,112.23 L744.79,112.23 L745.29,112.23 L745.78,112.23 L746.27,112.22 L746.77,112.22 L747.26,112.22 L747.75,112.21 L748.25,112.21 L748.74,112.21 L749.23,112.21 L749.73,112.20 L750.22,112.20 L750.71,112.20 L751.21,112.20 L751.70,112.19 L752.19,112.19 L752.69,112.19 L753.18,112.19 L753.67,112.18 L754.17,112.18 L754.66,112.18 L755.15,112.18 L755.65,112.18 L756.14,112.17 L756.63,112.17 L757.13,112.17 L757.62,112.17 L758.11,112.16 L758.61,112.16 L759.10,112.16 L759.59,112.16 L760.09,112.15 L760.58,112.15 L761.07,112.15 L761.57,112.15 L762.06,112.14 L762.55,112.14 L763.05,112.14 L763.54,112.14 L764.03,112.14 L764.53,112.13 L765.02,112.13 L765.51,112.13 L766.01,112.13 L766.50,112.12 L766.99,112.12 L767.49,112.12 L767.98,112.12 L768.47,112.12 L768.97,112.11 L769.46,112.11 L769.95,112.11 L770.45,112.11 L770.94,112.11 L771.43,112.10 L771.93,112.10 L772.42,112.10 L772.91,112.10 L773.41,112.09 L773.90,112.09 L774.39,112.09 L774.89,112.09 L775.38,112.09 L775.87,112.08 L776.37,112.08 L776.86,112.08 L777.35,112.08 L777.85,112.08 L778.34,112.07 L778.83,112.07 L779.33,112.07 L779.82,112.07 L780.31,112.07 L780.81,112.06 L781.30,112.06 L781.79,112.06" stroke="#ff8000"/>
</g>
<line x1="84.20" y1="118.50" x2="780.50" y2="118.50" stroke="#000" stroke-width="0.63"/>
<g stroke="#000" stroke-width="0.63" fill="none">
<path d="M84.20,1.20 V431.80 M780.50,1.20 V431.80 M83.90,1.50 H780.80 M83.90,431.50 H780.80"/>
<path d="M84.20,431.50 v-8.50 M84.20,1.50 v8.50"/>
<path d="M119.01,431.50 v-4.80 M119.01,1.50 v4.80"/>
<path d="M153.82,431.50 v-4.80 M153.82,1.50 v4.80"/>
<path d="M188.63,431.50 v-4.80 M188.63,1.50 v4.80"/>
<path d="M223.44,431.50 v-4.80 M223.44,1.50 v4.80"/>
<path d="M258.25,431.50 v-8.50 M258.25,1.50 v8.50"/>
<path d="M293.06,431.50 v-4.80 M293.06,1.50 v4.80"/>
<path d="M327.87,431.50 v-4.80 M327.87,1.50 v4.80"/>
<path d="M362.68,431.50 v-4.80 M362.68,1.50 v4.80"/>
<path d="M397.49,431.50 v-4.80 M397.49,1.50 v4.80"/>
<path d="M432.30,431.50 v-8.50 M432.30,1.50 v8.50"/>
<path d="M467.11,431.50 v-4.80 M467.11,1.50 v4.80"/>
<path d="M501.92,431.50 v-4.80 M501.92,1.50 v4.80"/>
<path d="M536.73,431.50 v-4.80 M536.73,1.50 v4.80"/>
<path d="M571.54,431.50 v-4.80 M571.54,1.50 v4.80"/>
<path d="M606.35,431.50 v-8.50 M606.35,1.50 v8.50"/>
<path d="M641.16,431.50 v-4.80 M641.16,1.50 v4.80"/>
<path d="M675.97,431.50 v-4.80 M675.97,1.50 v4.80"/>
<path d="M710.78,431.50 v-4.80 M710.78,1.50 v4.80"/>
<path d="M745.59,431.50 v-4.80 M745.59,1.50 v4.80"/>
<path d="M780.40,431.50 v-8.50 M780.40,1.50 v8.50"/>
<path d="M84.20,431.50 h8.50 M780.40,431.50 h-8.50"/>
<path d="M84.20,415.86 h4.80 M780.40,415.86 h-4.80"/>
<path d="M84.20,400.23 h4.80 M780.40,400.23 h-4.80"/>
<path d="M84.20,384.59 h4.80 M780.40,384.59 h-4.80"/>
<path d="M84.20,368.95 h4.80 M780.40,368.95 h-4.80"/>
<path d="M84.20,353.32 h8.50 M780.40,353.32 h-8.50"/>
<path d="M84.20,337.68 h4.80 M780.40,337.68 h-4.80"/>
<path d="M84.20,322.05 h4.80 M780.40,322.05 h-4.80"/>
<path d="M84.20,306.41 h4.80 M780.40,306.41 h-4.80"/>
<path d="M84.20,290.77 h4.80 M780.40,290.77 h-4.80"/>
<path d="M84.20,275.14 h8.50 M780.40,275.14 h-8.50"/>
<path d="M84.20,259.50 h4.80 M780.40,259.50 h-4.80"/>
<path d="M84.20,243.86 h4.80 M780.40,243.86 h-4.80"/>
<path d="M84.20,228.23 h4.80 M780.40,228.23 h-4.80"/>
<path d="M84.20,212.59 h4.80 M780.40,212.59 h-4.80"/>
<path d="M84.20,196.95 h8.50 M780.40,196.95 h-8.50"/>
<path d="M84.20,181.32 h4.80 M780.40,181.32 h-4.80"/>
<path d="M84.20,165.68 h4.80 M780.40,165.68 h-4.80"/>
<path d="M84.20,150.05 h4.80 M780.40,150.05 h-4.80"/>
<path d="M84.20,134.41 h4.80 M780.40,134.41 h-4.80"/>
<path d="M84.20,118.77 h8.50 M780.40,118.77 h-8.50"/>
<path d="M84.20,103.14 h4.80 M780.40,103.14 h-4.80"/>
<path d="M84.20,87.50 h4.80 M780.40,87.50 h-4.80"/>
<path d="M84.20,71.86 h4.80 M780.40,71.86 h-4.80"/>
<path d="M84.20,56.23 h4.80 M780.40,56.23 h-4.80"/>
<path d="M84.20,40.59 h8.50 M780.40,40.59 h-8.50"/>
<path d="M84.20,24.95 h4.80 M780.40,24.95 h-4.80"/>
<path d="M84.20,9.32 h4.80 M780.40,9.32 h-4.80"/>
</g>
<text transform="translate(83.55,456.70) scale(1,1.090)" font-size="19.70" text-anchor="middle">0.0</text>
<text transform="translate(257.60,456.70) scale(1,1.090)" font-size="19.70" text-anchor="middle">0.5</text>
<text transform="translate(431.65,456.70) scale(1,1.090)" font-size="19.70" text-anchor="middle">1.0</text>
<text transform="translate(605.70,456.70) scale(1,1.090)" font-size="19.70" text-anchor="middle">1.5</text>
<text transform="translate(779.75,456.70) scale(1,1.090)" font-size="19.70" text-anchor="middle">2.0</text>
<text transform="translate(77.00,438.50) scale(1,1.090)" font-size="19.70" text-anchor="end">4</text>
<rect x="55.6" y="432.30" width="10.6" height="1.3" fill="#000"/>
<text transform="translate(77.00,360.32) scale(1,1.090)" font-size="19.70" text-anchor="end">3</text>
<rect x="55.6" y="354.12" width="10.6" height="1.3" fill="#000"/>
<text transform="translate(77.00,282.14) scale(1,1.090)" font-size="19.70" text-anchor="end">2</text>
<rect x="55.6" y="275.94" width="10.6" height="1.3" fill="#000"/>
<text transform="translate(77.00,203.95) scale(1,1.090)" font-size="19.70" text-anchor="end">1</text>
<rect x="55.6" y="197.75" width="10.6" height="1.3" fill="#000"/>
<text transform="translate(77.00,125.77) scale(1,1.090)" font-size="19.70" text-anchor="end">0</text>
<text transform="translate(77.00,47.59) scale(1,1.090)" font-size="19.70" text-anchor="end">1</text>
<g fill="#000"><polygon points="6.89,200.40 32.93,210.18 6.89,220.67 6.89,216.40 24.93,209.38 6.89,201.91"/><polygon points="16.22,216.40 32.93,222.89 6.89,233.56 6.89,229.20 24.93,222.09 15.33,218.44"/><polygon points="5.82,198.00 6.89,198.00 6.89,200.22 8.67,201.29 8.22,202.89 6.89,203.33 6.89,206.00 5.82,206.00"/><polygon points="5.82,212.22 6.89,212.22 6.89,214.89 9.11,215.33 9.11,219.78 6.89,220.67 6.89,222.44 5.82,222.44"/><polygon points="5.82,225.11 6.89,225.11 6.89,227.78 9.11,228.13 9.11,232.67 6.89,233.56 6.89,235.33 5.82,235.33"/></g>
<text x="380.1" y="505" font-size="41.5" font-style="italic">E</text>
<text x="404.2" y="511.4" font-size="28.5" font-style="italic">l</text>
<polygon points="423.2,510.8 425.5,510.8 435.6,477.2 433.3,477.2" fill="#000"/>
<text x="446.0" y="505" font-size="41.5" font-style="italic">E</text>
<text x="469.4" y="511.6" font-size="30">0</text>
<line x1="612.6" x2="641.7" y1="262.20" y2="262.20" stroke="#00a600" stroke-width="4.9"/>
<text transform="translate(654.7,266.20) scale(1,1.090)" font-size="19.70">n</text>
<text transform="translate(686.1,266.40) scale(1,1.090)" font-size="19.70">5</text>
<rect x="669.7" y="258.50" width="10.4" height="1.4" fill="#000"/><rect x="669.7" y="262.05" width="10.4" height="1.4" fill="#000"/>
<line x1="612.6" x2="641.7" y1="288.80" y2="288.80" stroke="#0000a8" stroke-width="4.9"/>
<text transform="translate(654.7,292.80) scale(1,1.090)" font-size="19.70">n</text>
<text transform="translate(686.1,293.00) scale(1,1.090)" font-size="19.70">1</text>
<rect x="669.7" y="285.10" width="10.4" height="1.4" fill="#000"/><rect x="669.7" y="288.65" width="10.4" height="1.4" fill="#000"/>
<line x1="612.6" x2="641.7" y1="315.30" y2="315.30" stroke="#ff0000" stroke-width="4.9"/>
<text transform="translate(654.7,319.30) scale(1,1.090)" font-size="19.70">n</text>
<text transform="translate(686.1,319.50) scale(1,1.090)" font-size="19.70">1/2</text>
<rect x="669.7" y="311.60" width="10.4" height="1.4" fill="#000"/><rect x="669.7" y="315.15" width="10.4" height="1.4" fill="#000"/>
<line x1="612.6" x2="641.7" y1="341.10" y2="341.10" stroke="#ff8000" stroke-width="4.9"/>
<text transform="translate(654.7,345.10) scale(1,1.090)" font-size="19.70">n</text>
<text transform="translate(686.1,345.30) scale(1,1.090)" font-size="19.70">1/4</text>
<rect x="669.7" y="337.40" width="10.4" height="1.4" fill="#000"/><rect x="669.7" y="340.95" width="10.4" height="1.4" fill="#000"/>
</svg></body></html>
